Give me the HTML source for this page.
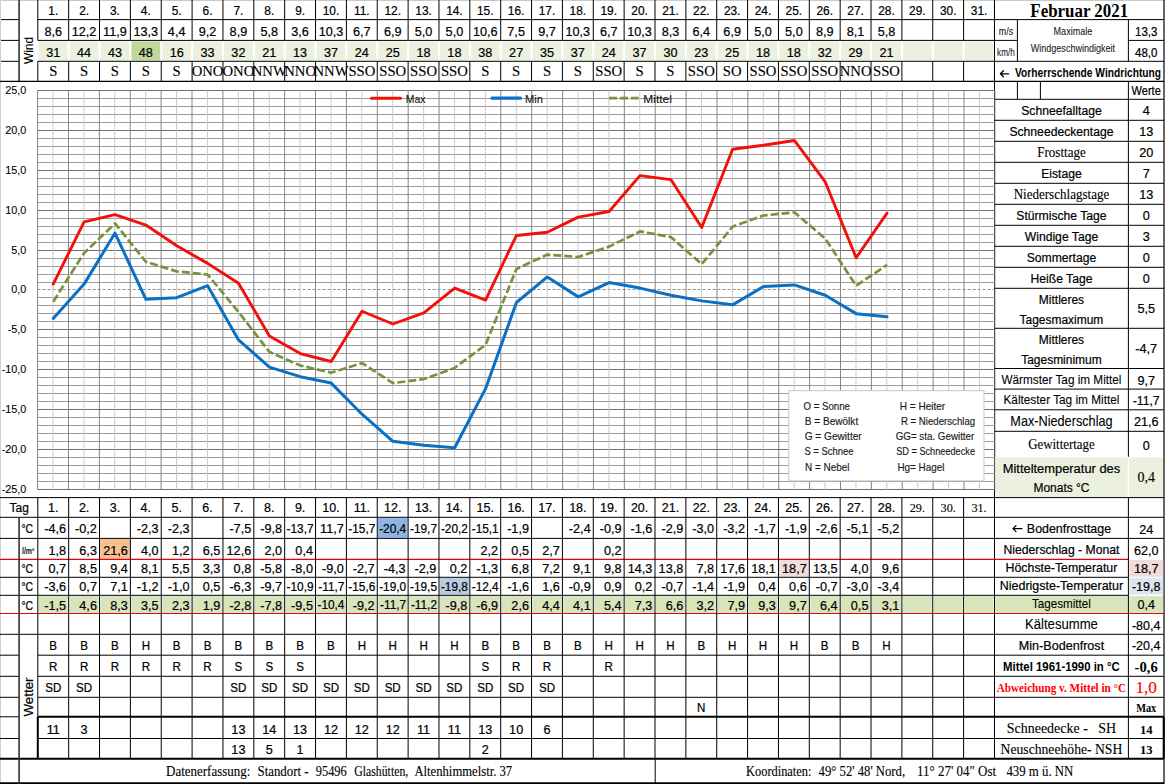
<!DOCTYPE html>
<html><head><meta charset="utf-8"><title>Februar 2021</title>
<style>
html,body{margin:0;padding:0;background:#fff;}
body{width:1165px;height:784px;overflow:hidden;font-family:"Liberation Sans",sans-serif;}
svg{display:block;}
text{white-space:pre;}
</style></head><body>
<svg width="1165" height="784" viewBox="0 0 1165 784">
<rect x="0.00" y="0.00" width="1165.00" height="784.00" fill="#fff" />
<rect x="38.80" y="41.30" width="28.86" height="19.30" fill="#ebf1de" />
<rect x="69.66" y="41.30" width="28.86" height="19.30" fill="#ebf1de" />
<rect x="100.52" y="41.30" width="28.86" height="19.30" fill="#ebf1de" />
<rect x="131.38" y="41.30" width="28.86" height="19.30" fill="#c4d79b" />
<rect x="162.24" y="41.30" width="28.86" height="19.30" fill="#ebf1de" />
<rect x="193.10" y="41.30" width="28.86" height="19.30" fill="#ebf1de" />
<rect x="223.96" y="41.30" width="28.86" height="19.30" fill="#ebf1de" />
<rect x="254.82" y="41.30" width="28.86" height="19.30" fill="#ebf1de" />
<rect x="285.68" y="41.30" width="28.86" height="19.30" fill="#ebf1de" />
<rect x="316.54" y="41.30" width="28.86" height="19.30" fill="#ebf1de" />
<rect x="347.40" y="41.30" width="28.86" height="19.30" fill="#ebf1de" />
<rect x="378.26" y="41.30" width="28.86" height="19.30" fill="#ebf1de" />
<rect x="409.12" y="41.30" width="28.86" height="19.30" fill="#ebf1de" />
<rect x="439.98" y="41.30" width="28.86" height="19.30" fill="#ebf1de" />
<rect x="470.84" y="41.30" width="28.86" height="19.30" fill="#ebf1de" />
<rect x="501.70" y="41.30" width="28.86" height="19.30" fill="#ebf1de" />
<rect x="532.56" y="41.30" width="28.86" height="19.30" fill="#ebf1de" />
<rect x="563.42" y="41.30" width="28.86" height="19.30" fill="#ebf1de" />
<rect x="594.28" y="41.30" width="28.86" height="19.30" fill="#ebf1de" />
<rect x="625.14" y="41.30" width="28.86" height="19.30" fill="#ebf1de" />
<rect x="656.00" y="41.30" width="28.86" height="19.30" fill="#ebf1de" />
<rect x="686.86" y="41.30" width="28.86" height="19.30" fill="#ebf1de" />
<rect x="717.72" y="41.30" width="28.86" height="19.30" fill="#ebf1de" />
<rect x="748.58" y="41.30" width="28.86" height="19.30" fill="#ebf1de" />
<rect x="779.44" y="41.30" width="28.86" height="19.30" fill="#ebf1de" />
<rect x="810.30" y="41.30" width="28.86" height="19.30" fill="#ebf1de" />
<rect x="841.16" y="41.30" width="28.86" height="19.30" fill="#ebf1de" />
<rect x="872.02" y="41.30" width="28.86" height="19.30" fill="#ebf1de" />
<rect x="902.88" y="41.30" width="28.86" height="19.30" fill="#ebf1de" />
<rect x="933.74" y="41.30" width="28.86" height="19.30" fill="#ebf1de" />
<rect x="964.60" y="41.30" width="28.86" height="19.30" fill="#ebf1de" />
<text transform="translate(53.23,15.00) scale(0.96,1)" font-family="Liberation Sans" font-size="12.4" text-anchor="middle" font-weight="normal" fill="#000"  stroke="#000" stroke-width="0.22">1.</text>
<text transform="translate(84.09,15.00) scale(0.96,1)" font-family="Liberation Sans" font-size="12.4" text-anchor="middle" font-weight="normal" fill="#000"  stroke="#000" stroke-width="0.22">2.</text>
<text transform="translate(114.95,15.00) scale(0.96,1)" font-family="Liberation Sans" font-size="12.4" text-anchor="middle" font-weight="normal" fill="#000"  stroke="#000" stroke-width="0.22">3.</text>
<text transform="translate(145.81,15.00) scale(0.96,1)" font-family="Liberation Sans" font-size="12.4" text-anchor="middle" font-weight="normal" fill="#000"  stroke="#000" stroke-width="0.22">4.</text>
<text transform="translate(176.67,15.00) scale(0.96,1)" font-family="Liberation Sans" font-size="12.4" text-anchor="middle" font-weight="normal" fill="#000"  stroke="#000" stroke-width="0.22">5.</text>
<text transform="translate(207.53,15.00) scale(0.96,1)" font-family="Liberation Sans" font-size="12.4" text-anchor="middle" font-weight="normal" fill="#000"  stroke="#000" stroke-width="0.22">6.</text>
<text transform="translate(238.39,15.00) scale(0.96,1)" font-family="Liberation Sans" font-size="12.4" text-anchor="middle" font-weight="normal" fill="#000"  stroke="#000" stroke-width="0.22">7.</text>
<text transform="translate(269.25,15.00) scale(0.96,1)" font-family="Liberation Sans" font-size="12.4" text-anchor="middle" font-weight="normal" fill="#000"  stroke="#000" stroke-width="0.22">8.</text>
<text transform="translate(300.11,15.00) scale(0.96,1)" font-family="Liberation Sans" font-size="12.4" text-anchor="middle" font-weight="normal" fill="#000"  stroke="#000" stroke-width="0.22">9.</text>
<text transform="translate(330.97,15.00) scale(0.96,1)" font-family="Liberation Sans" font-size="12.4" text-anchor="middle" font-weight="normal" fill="#000"  stroke="#000" stroke-width="0.22">10.</text>
<text transform="translate(361.83,15.00) scale(0.96,1)" font-family="Liberation Sans" font-size="12.4" text-anchor="middle" font-weight="normal" fill="#000"  stroke="#000" stroke-width="0.22">11.</text>
<text transform="translate(392.69,15.00) scale(0.96,1)" font-family="Liberation Sans" font-size="12.4" text-anchor="middle" font-weight="normal" fill="#000"  stroke="#000" stroke-width="0.22">12.</text>
<text transform="translate(423.55,15.00) scale(0.96,1)" font-family="Liberation Sans" font-size="12.4" text-anchor="middle" font-weight="normal" fill="#000"  stroke="#000" stroke-width="0.22">13.</text>
<text transform="translate(454.41,15.00) scale(0.96,1)" font-family="Liberation Sans" font-size="12.4" text-anchor="middle" font-weight="normal" fill="#000"  stroke="#000" stroke-width="0.22">14.</text>
<text transform="translate(485.27,15.00) scale(0.96,1)" font-family="Liberation Sans" font-size="12.4" text-anchor="middle" font-weight="normal" fill="#000"  stroke="#000" stroke-width="0.22">15.</text>
<text transform="translate(516.13,15.00) scale(0.96,1)" font-family="Liberation Sans" font-size="12.4" text-anchor="middle" font-weight="normal" fill="#000"  stroke="#000" stroke-width="0.22">16.</text>
<text transform="translate(546.99,15.00) scale(0.96,1)" font-family="Liberation Sans" font-size="12.4" text-anchor="middle" font-weight="normal" fill="#000"  stroke="#000" stroke-width="0.22">17.</text>
<text transform="translate(577.85,15.00) scale(0.96,1)" font-family="Liberation Sans" font-size="12.4" text-anchor="middle" font-weight="normal" fill="#000"  stroke="#000" stroke-width="0.22">18.</text>
<text transform="translate(608.71,15.00) scale(0.96,1)" font-family="Liberation Sans" font-size="12.4" text-anchor="middle" font-weight="normal" fill="#000"  stroke="#000" stroke-width="0.22">19.</text>
<text transform="translate(639.57,15.00) scale(0.96,1)" font-family="Liberation Sans" font-size="12.4" text-anchor="middle" font-weight="normal" fill="#000"  stroke="#000" stroke-width="0.22">20.</text>
<text transform="translate(670.43,15.00) scale(0.96,1)" font-family="Liberation Sans" font-size="12.4" text-anchor="middle" font-weight="normal" fill="#000"  stroke="#000" stroke-width="0.22">21.</text>
<text transform="translate(701.29,15.00) scale(0.96,1)" font-family="Liberation Sans" font-size="12.4" text-anchor="middle" font-weight="normal" fill="#000"  stroke="#000" stroke-width="0.22">22.</text>
<text transform="translate(732.15,15.00) scale(0.96,1)" font-family="Liberation Sans" font-size="12.4" text-anchor="middle" font-weight="normal" fill="#000"  stroke="#000" stroke-width="0.22">23.</text>
<text transform="translate(763.01,15.00) scale(0.96,1)" font-family="Liberation Sans" font-size="12.4" text-anchor="middle" font-weight="normal" fill="#000"  stroke="#000" stroke-width="0.22">24.</text>
<text transform="translate(793.87,15.00) scale(0.96,1)" font-family="Liberation Sans" font-size="12.4" text-anchor="middle" font-weight="normal" fill="#000"  stroke="#000" stroke-width="0.22">25.</text>
<text transform="translate(824.73,15.00) scale(0.96,1)" font-family="Liberation Sans" font-size="12.4" text-anchor="middle" font-weight="normal" fill="#000"  stroke="#000" stroke-width="0.22">26.</text>
<text transform="translate(855.59,15.00) scale(0.96,1)" font-family="Liberation Sans" font-size="12.4" text-anchor="middle" font-weight="normal" fill="#000"  stroke="#000" stroke-width="0.22">27.</text>
<text transform="translate(886.45,15.00) scale(0.96,1)" font-family="Liberation Sans" font-size="12.4" text-anchor="middle" font-weight="normal" fill="#000"  stroke="#000" stroke-width="0.22">28.</text>
<text transform="translate(917.31,15.00) scale(0.96,1)" font-family="Liberation Sans" font-size="12.4" text-anchor="middle" font-weight="normal" fill="#000"  stroke="#000" stroke-width="0.22">29.</text>
<text transform="translate(948.17,15.00) scale(0.96,1)" font-family="Liberation Sans" font-size="12.4" text-anchor="middle" font-weight="normal" fill="#000"  stroke="#000" stroke-width="0.22">30.</text>
<text transform="translate(979.03,15.00) scale(0.96,1)" font-family="Liberation Sans" font-size="12.4" text-anchor="middle" font-weight="normal" fill="#000"  stroke="#000" stroke-width="0.22">31.</text>
<text transform="translate(53.23,35.70) scale(0.96,1)" font-family="Liberation Sans" font-size="13.2" text-anchor="middle" font-weight="normal" fill="#000"  stroke="#000" stroke-width="0.22">8,6</text>
<text transform="translate(53.23,56.70) scale(0.96,1)" font-family="Liberation Sans" font-size="13.2" text-anchor="middle" font-weight="normal" fill="#000"  stroke="#000" stroke-width="0.22">31</text>
<text transform="translate(53.23,76.20) scale(1.0,1)" font-family="Liberation Serif" font-size="14.67" text-anchor="middle" font-weight="normal" fill="#000"  stroke="#000" stroke-width="0.12">S</text>
<text transform="translate(84.09,35.70) scale(0.96,1)" font-family="Liberation Sans" font-size="13.2" text-anchor="middle" font-weight="normal" fill="#000"  stroke="#000" stroke-width="0.22">12,2</text>
<text transform="translate(84.09,56.70) scale(0.96,1)" font-family="Liberation Sans" font-size="13.2" text-anchor="middle" font-weight="normal" fill="#000"  stroke="#000" stroke-width="0.22">44</text>
<text transform="translate(84.09,76.20) scale(1.0,1)" font-family="Liberation Serif" font-size="14.67" text-anchor="middle" font-weight="normal" fill="#000"  stroke="#000" stroke-width="0.12">S</text>
<text transform="translate(114.95,35.70) scale(0.96,1)" font-family="Liberation Sans" font-size="13.2" text-anchor="middle" font-weight="normal" fill="#000"  stroke="#000" stroke-width="0.22">11,9</text>
<text transform="translate(114.95,56.70) scale(0.96,1)" font-family="Liberation Sans" font-size="13.2" text-anchor="middle" font-weight="normal" fill="#000"  stroke="#000" stroke-width="0.22">43</text>
<text transform="translate(114.95,76.20) scale(1.0,1)" font-family="Liberation Serif" font-size="14.67" text-anchor="middle" font-weight="normal" fill="#000"  stroke="#000" stroke-width="0.12">S</text>
<text transform="translate(145.81,35.70) scale(0.96,1)" font-family="Liberation Sans" font-size="13.2" text-anchor="middle" font-weight="normal" fill="#000"  stroke="#000" stroke-width="0.22">13,3</text>
<text transform="translate(145.81,56.70) scale(0.96,1)" font-family="Liberation Sans" font-size="13.2" text-anchor="middle" font-weight="normal" fill="#000"  stroke="#000" stroke-width="0.22">48</text>
<text transform="translate(145.81,76.20) scale(1.0,1)" font-family="Liberation Serif" font-size="14.67" text-anchor="middle" font-weight="normal" fill="#000"  stroke="#000" stroke-width="0.12">S</text>
<text transform="translate(176.67,35.70) scale(0.96,1)" font-family="Liberation Sans" font-size="13.2" text-anchor="middle" font-weight="normal" fill="#000"  stroke="#000" stroke-width="0.22">4,4</text>
<text transform="translate(176.67,56.70) scale(0.96,1)" font-family="Liberation Sans" font-size="13.2" text-anchor="middle" font-weight="normal" fill="#000"  stroke="#000" stroke-width="0.22">16</text>
<text transform="translate(176.67,76.20) scale(1.0,1)" font-family="Liberation Serif" font-size="14.67" text-anchor="middle" font-weight="normal" fill="#000"  stroke="#000" stroke-width="0.12">S</text>
<text transform="translate(207.53,35.70) scale(0.96,1)" font-family="Liberation Sans" font-size="13.2" text-anchor="middle" font-weight="normal" fill="#000"  stroke="#000" stroke-width="0.22">9,2</text>
<text transform="translate(207.53,56.70) scale(0.96,1)" font-family="Liberation Sans" font-size="13.2" text-anchor="middle" font-weight="normal" fill="#000"  stroke="#000" stroke-width="0.22">33</text>
<text transform="translate(207.53,76.20) scale(1.0,1)" font-family="Liberation Serif" font-size="14.67" text-anchor="middle" font-weight="normal" fill="#000"  stroke="#000" stroke-width="0.12">ONO</text>
<text transform="translate(238.39,35.70) scale(0.96,1)" font-family="Liberation Sans" font-size="13.2" text-anchor="middle" font-weight="normal" fill="#000"  stroke="#000" stroke-width="0.22">8,9</text>
<text transform="translate(238.39,56.70) scale(0.96,1)" font-family="Liberation Sans" font-size="13.2" text-anchor="middle" font-weight="normal" fill="#000"  stroke="#000" stroke-width="0.22">32</text>
<text transform="translate(238.39,76.20) scale(1.0,1)" font-family="Liberation Serif" font-size="14.67" text-anchor="middle" font-weight="normal" fill="#000"  stroke="#000" stroke-width="0.12">ONO</text>
<text transform="translate(269.25,35.70) scale(0.96,1)" font-family="Liberation Sans" font-size="13.2" text-anchor="middle" font-weight="normal" fill="#000"  stroke="#000" stroke-width="0.22">5,8</text>
<text transform="translate(269.25,56.70) scale(0.96,1)" font-family="Liberation Sans" font-size="13.2" text-anchor="middle" font-weight="normal" fill="#000"  stroke="#000" stroke-width="0.22">21</text>
<text transform="translate(269.25,76.20) scale(1.0,1)" font-family="Liberation Serif" font-size="14.67" text-anchor="middle" font-weight="normal" fill="#000"  stroke="#000" stroke-width="0.12">NNW</text>
<text transform="translate(300.11,35.70) scale(0.96,1)" font-family="Liberation Sans" font-size="13.2" text-anchor="middle" font-weight="normal" fill="#000"  stroke="#000" stroke-width="0.22">3,6</text>
<text transform="translate(300.11,56.70) scale(0.96,1)" font-family="Liberation Sans" font-size="13.2" text-anchor="middle" font-weight="normal" fill="#000"  stroke="#000" stroke-width="0.22">13</text>
<text transform="translate(300.11,76.20) scale(1.0,1)" font-family="Liberation Serif" font-size="14.67" text-anchor="middle" font-weight="normal" fill="#000"  stroke="#000" stroke-width="0.12">NNO</text>
<text transform="translate(330.97,35.70) scale(0.96,1)" font-family="Liberation Sans" font-size="13.2" text-anchor="middle" font-weight="normal" fill="#000"  stroke="#000" stroke-width="0.22">10,3</text>
<text transform="translate(330.97,56.70) scale(0.96,1)" font-family="Liberation Sans" font-size="13.2" text-anchor="middle" font-weight="normal" fill="#000"  stroke="#000" stroke-width="0.22">37</text>
<text transform="translate(330.97,76.20) scale(1.0,1)" font-family="Liberation Serif" font-size="14.67" text-anchor="middle" font-weight="normal" fill="#000"  stroke="#000" stroke-width="0.12">NNW</text>
<text transform="translate(361.83,35.70) scale(0.96,1)" font-family="Liberation Sans" font-size="13.2" text-anchor="middle" font-weight="normal" fill="#000"  stroke="#000" stroke-width="0.22">6,7</text>
<text transform="translate(361.83,56.70) scale(0.96,1)" font-family="Liberation Sans" font-size="13.2" text-anchor="middle" font-weight="normal" fill="#000"  stroke="#000" stroke-width="0.22">24</text>
<text transform="translate(361.83,76.20) scale(1.0,1)" font-family="Liberation Serif" font-size="14.67" text-anchor="middle" font-weight="normal" fill="#000"  stroke="#000" stroke-width="0.12">SSO</text>
<text transform="translate(392.69,35.70) scale(0.96,1)" font-family="Liberation Sans" font-size="13.2" text-anchor="middle" font-weight="normal" fill="#000"  stroke="#000" stroke-width="0.22">6,9</text>
<text transform="translate(392.69,56.70) scale(0.96,1)" font-family="Liberation Sans" font-size="13.2" text-anchor="middle" font-weight="normal" fill="#000"  stroke="#000" stroke-width="0.22">25</text>
<text transform="translate(392.69,76.20) scale(1.0,1)" font-family="Liberation Serif" font-size="14.67" text-anchor="middle" font-weight="normal" fill="#000"  stroke="#000" stroke-width="0.12">SSO</text>
<text transform="translate(423.55,35.70) scale(0.96,1)" font-family="Liberation Sans" font-size="13.2" text-anchor="middle" font-weight="normal" fill="#000"  stroke="#000" stroke-width="0.22">5,0</text>
<text transform="translate(423.55,56.70) scale(0.96,1)" font-family="Liberation Sans" font-size="13.2" text-anchor="middle" font-weight="normal" fill="#000"  stroke="#000" stroke-width="0.22">18</text>
<text transform="translate(423.55,76.20) scale(1.0,1)" font-family="Liberation Serif" font-size="14.67" text-anchor="middle" font-weight="normal" fill="#000"  stroke="#000" stroke-width="0.12">SSO</text>
<text transform="translate(454.41,35.70) scale(0.96,1)" font-family="Liberation Sans" font-size="13.2" text-anchor="middle" font-weight="normal" fill="#000"  stroke="#000" stroke-width="0.22">5,0</text>
<text transform="translate(454.41,56.70) scale(0.96,1)" font-family="Liberation Sans" font-size="13.2" text-anchor="middle" font-weight="normal" fill="#000"  stroke="#000" stroke-width="0.22">18</text>
<text transform="translate(454.41,76.20) scale(1.0,1)" font-family="Liberation Serif" font-size="14.67" text-anchor="middle" font-weight="normal" fill="#000"  stroke="#000" stroke-width="0.12">SSO</text>
<text transform="translate(485.27,35.70) scale(0.96,1)" font-family="Liberation Sans" font-size="13.2" text-anchor="middle" font-weight="normal" fill="#000"  stroke="#000" stroke-width="0.22">10,6</text>
<text transform="translate(485.27,56.70) scale(0.96,1)" font-family="Liberation Sans" font-size="13.2" text-anchor="middle" font-weight="normal" fill="#000"  stroke="#000" stroke-width="0.22">38</text>
<text transform="translate(485.27,76.20) scale(1.0,1)" font-family="Liberation Serif" font-size="14.67" text-anchor="middle" font-weight="normal" fill="#000"  stroke="#000" stroke-width="0.12">S</text>
<text transform="translate(516.13,35.70) scale(0.96,1)" font-family="Liberation Sans" font-size="13.2" text-anchor="middle" font-weight="normal" fill="#000"  stroke="#000" stroke-width="0.22">7,5</text>
<text transform="translate(516.13,56.70) scale(0.96,1)" font-family="Liberation Sans" font-size="13.2" text-anchor="middle" font-weight="normal" fill="#000"  stroke="#000" stroke-width="0.22">27</text>
<text transform="translate(516.13,76.20) scale(1.0,1)" font-family="Liberation Serif" font-size="14.67" text-anchor="middle" font-weight="normal" fill="#000"  stroke="#000" stroke-width="0.12">S</text>
<text transform="translate(546.99,35.70) scale(0.96,1)" font-family="Liberation Sans" font-size="13.2" text-anchor="middle" font-weight="normal" fill="#000"  stroke="#000" stroke-width="0.22">9,7</text>
<text transform="translate(546.99,56.70) scale(0.96,1)" font-family="Liberation Sans" font-size="13.2" text-anchor="middle" font-weight="normal" fill="#000"  stroke="#000" stroke-width="0.22">35</text>
<text transform="translate(546.99,76.20) scale(1.0,1)" font-family="Liberation Serif" font-size="14.67" text-anchor="middle" font-weight="normal" fill="#000"  stroke="#000" stroke-width="0.12">S</text>
<text transform="translate(577.85,35.70) scale(0.96,1)" font-family="Liberation Sans" font-size="13.2" text-anchor="middle" font-weight="normal" fill="#000"  stroke="#000" stroke-width="0.22">10,3</text>
<text transform="translate(577.85,56.70) scale(0.96,1)" font-family="Liberation Sans" font-size="13.2" text-anchor="middle" font-weight="normal" fill="#000"  stroke="#000" stroke-width="0.22">37</text>
<text transform="translate(577.85,76.20) scale(1.0,1)" font-family="Liberation Serif" font-size="14.67" text-anchor="middle" font-weight="normal" fill="#000"  stroke="#000" stroke-width="0.12">S</text>
<text transform="translate(608.71,35.70) scale(0.96,1)" font-family="Liberation Sans" font-size="13.2" text-anchor="middle" font-weight="normal" fill="#000"  stroke="#000" stroke-width="0.22">6,7</text>
<text transform="translate(608.71,56.70) scale(0.96,1)" font-family="Liberation Sans" font-size="13.2" text-anchor="middle" font-weight="normal" fill="#000"  stroke="#000" stroke-width="0.22">24</text>
<text transform="translate(608.71,76.20) scale(1.0,1)" font-family="Liberation Serif" font-size="14.67" text-anchor="middle" font-weight="normal" fill="#000"  stroke="#000" stroke-width="0.12">SSO</text>
<text transform="translate(639.57,35.70) scale(0.96,1)" font-family="Liberation Sans" font-size="13.2" text-anchor="middle" font-weight="normal" fill="#000"  stroke="#000" stroke-width="0.22">10,3</text>
<text transform="translate(639.57,56.70) scale(0.96,1)" font-family="Liberation Sans" font-size="13.2" text-anchor="middle" font-weight="normal" fill="#000"  stroke="#000" stroke-width="0.22">37</text>
<text transform="translate(639.57,76.20) scale(1.0,1)" font-family="Liberation Serif" font-size="14.67" text-anchor="middle" font-weight="normal" fill="#000"  stroke="#000" stroke-width="0.12">S</text>
<text transform="translate(670.43,35.70) scale(0.96,1)" font-family="Liberation Sans" font-size="13.2" text-anchor="middle" font-weight="normal" fill="#000"  stroke="#000" stroke-width="0.22">8,3</text>
<text transform="translate(670.43,56.70) scale(0.96,1)" font-family="Liberation Sans" font-size="13.2" text-anchor="middle" font-weight="normal" fill="#000"  stroke="#000" stroke-width="0.22">30</text>
<text transform="translate(670.43,76.20) scale(1.0,1)" font-family="Liberation Serif" font-size="14.67" text-anchor="middle" font-weight="normal" fill="#000"  stroke="#000" stroke-width="0.12">S</text>
<text transform="translate(701.29,35.70) scale(0.96,1)" font-family="Liberation Sans" font-size="13.2" text-anchor="middle" font-weight="normal" fill="#000"  stroke="#000" stroke-width="0.22">6,4</text>
<text transform="translate(701.29,56.70) scale(0.96,1)" font-family="Liberation Sans" font-size="13.2" text-anchor="middle" font-weight="normal" fill="#000"  stroke="#000" stroke-width="0.22">23</text>
<text transform="translate(701.29,76.20) scale(1.0,1)" font-family="Liberation Serif" font-size="14.67" text-anchor="middle" font-weight="normal" fill="#000"  stroke="#000" stroke-width="0.12">SSO</text>
<text transform="translate(732.15,35.70) scale(0.96,1)" font-family="Liberation Sans" font-size="13.2" text-anchor="middle" font-weight="normal" fill="#000"  stroke="#000" stroke-width="0.22">6,9</text>
<text transform="translate(732.15,56.70) scale(0.96,1)" font-family="Liberation Sans" font-size="13.2" text-anchor="middle" font-weight="normal" fill="#000"  stroke="#000" stroke-width="0.22">25</text>
<text transform="translate(732.15,76.20) scale(1.0,1)" font-family="Liberation Serif" font-size="14.67" text-anchor="middle" font-weight="normal" fill="#000"  stroke="#000" stroke-width="0.12">SO</text>
<text transform="translate(763.01,35.70) scale(0.96,1)" font-family="Liberation Sans" font-size="13.2" text-anchor="middle" font-weight="normal" fill="#000"  stroke="#000" stroke-width="0.22">5,0</text>
<text transform="translate(763.01,56.70) scale(0.96,1)" font-family="Liberation Sans" font-size="13.2" text-anchor="middle" font-weight="normal" fill="#000"  stroke="#000" stroke-width="0.22">18</text>
<text transform="translate(763.01,76.20) scale(1.0,1)" font-family="Liberation Serif" font-size="14.67" text-anchor="middle" font-weight="normal" fill="#000"  stroke="#000" stroke-width="0.12">SSO</text>
<text transform="translate(793.87,35.70) scale(0.96,1)" font-family="Liberation Sans" font-size="13.2" text-anchor="middle" font-weight="normal" fill="#000"  stroke="#000" stroke-width="0.22">5,0</text>
<text transform="translate(793.87,56.70) scale(0.96,1)" font-family="Liberation Sans" font-size="13.2" text-anchor="middle" font-weight="normal" fill="#000"  stroke="#000" stroke-width="0.22">18</text>
<text transform="translate(793.87,76.20) scale(1.0,1)" font-family="Liberation Serif" font-size="14.67" text-anchor="middle" font-weight="normal" fill="#000"  stroke="#000" stroke-width="0.12">SSO</text>
<text transform="translate(824.73,35.70) scale(0.96,1)" font-family="Liberation Sans" font-size="13.2" text-anchor="middle" font-weight="normal" fill="#000"  stroke="#000" stroke-width="0.22">8,9</text>
<text transform="translate(824.73,56.70) scale(0.96,1)" font-family="Liberation Sans" font-size="13.2" text-anchor="middle" font-weight="normal" fill="#000"  stroke="#000" stroke-width="0.22">32</text>
<text transform="translate(824.73,76.20) scale(1.0,1)" font-family="Liberation Serif" font-size="14.67" text-anchor="middle" font-weight="normal" fill="#000"  stroke="#000" stroke-width="0.12">SSO</text>
<text transform="translate(855.59,35.70) scale(0.96,1)" font-family="Liberation Sans" font-size="13.2" text-anchor="middle" font-weight="normal" fill="#000"  stroke="#000" stroke-width="0.22">8,1</text>
<text transform="translate(855.59,56.70) scale(0.96,1)" font-family="Liberation Sans" font-size="13.2" text-anchor="middle" font-weight="normal" fill="#000"  stroke="#000" stroke-width="0.22">29</text>
<text transform="translate(855.59,76.20) scale(1.0,1)" font-family="Liberation Serif" font-size="14.67" text-anchor="middle" font-weight="normal" fill="#000"  stroke="#000" stroke-width="0.12">NNO</text>
<text transform="translate(886.45,35.70) scale(0.96,1)" font-family="Liberation Sans" font-size="13.2" text-anchor="middle" font-weight="normal" fill="#000"  stroke="#000" stroke-width="0.22">5,8</text>
<text transform="translate(886.45,56.70) scale(0.96,1)" font-family="Liberation Sans" font-size="13.2" text-anchor="middle" font-weight="normal" fill="#000"  stroke="#000" stroke-width="0.22">21</text>
<text transform="translate(886.45,76.20) scale(1.0,1)" font-family="Liberation Serif" font-size="14.67" text-anchor="middle" font-weight="normal" fill="#000"  stroke="#000" stroke-width="0.12">SSO</text>
<line x1="0.00" y1="0.50" x2="1164.00" y2="0.50" stroke="#c8c8c8" stroke-width="1" />
<line x1="0.00" y1="19.60" x2="19.00" y2="19.60" stroke="#000" stroke-width="1" />
<line x1="37.80" y1="19.60" x2="1164.00" y2="19.60" stroke="#000" stroke-width="1" />
<line x1="0.00" y1="40.40" x2="19.00" y2="40.40" stroke="#000" stroke-width="1" />
<line x1="37.80" y1="40.40" x2="994.50" y2="40.40" stroke="#000" stroke-width="1" />
<line x1="0.00" y1="61.30" x2="19.00" y2="61.30" stroke="#000" stroke-width="1" />
<line x1="37.80" y1="61.30" x2="994.50" y2="61.30" stroke="#000" stroke-width="1" />
<line x1="19.10" y1="0.00" x2="19.10" y2="81.40" stroke="#333" stroke-width="1.6" />
<line x1="37.80" y1="0.00" x2="37.80" y2="40.40" stroke="#000" stroke-width="1" />
<line x1="37.80" y1="61.30" x2="37.80" y2="81.40" stroke="#000" stroke-width="1" />
<line x1="68.66" y1="0.00" x2="68.66" y2="40.40" stroke="#000" stroke-width="1" />
<line x1="68.66" y1="61.30" x2="68.66" y2="81.40" stroke="#000" stroke-width="1" />
<line x1="99.52" y1="0.00" x2="99.52" y2="40.40" stroke="#000" stroke-width="1" />
<line x1="99.52" y1="61.30" x2="99.52" y2="81.40" stroke="#000" stroke-width="1" />
<line x1="130.38" y1="0.00" x2="130.38" y2="40.40" stroke="#000" stroke-width="1" />
<line x1="130.38" y1="61.30" x2="130.38" y2="81.40" stroke="#000" stroke-width="1" />
<line x1="161.24" y1="0.00" x2="161.24" y2="40.40" stroke="#000" stroke-width="1" />
<line x1="161.24" y1="61.30" x2="161.24" y2="81.40" stroke="#000" stroke-width="1" />
<line x1="192.10" y1="0.00" x2="192.10" y2="40.40" stroke="#000" stroke-width="1" />
<line x1="192.10" y1="61.30" x2="192.10" y2="81.40" stroke="#000" stroke-width="1" />
<line x1="222.96" y1="0.00" x2="222.96" y2="40.40" stroke="#000" stroke-width="1" />
<line x1="222.96" y1="61.30" x2="222.96" y2="81.40" stroke="#000" stroke-width="1" />
<line x1="253.82" y1="0.00" x2="253.82" y2="40.40" stroke="#000" stroke-width="1" />
<line x1="253.82" y1="61.30" x2="253.82" y2="81.40" stroke="#000" stroke-width="1" />
<line x1="284.68" y1="0.00" x2="284.68" y2="40.40" stroke="#000" stroke-width="1" />
<line x1="284.68" y1="61.30" x2="284.68" y2="81.40" stroke="#000" stroke-width="1" />
<line x1="315.54" y1="0.00" x2="315.54" y2="40.40" stroke="#000" stroke-width="1" />
<line x1="315.54" y1="61.30" x2="315.54" y2="81.40" stroke="#000" stroke-width="1" />
<line x1="346.40" y1="0.00" x2="346.40" y2="40.40" stroke="#000" stroke-width="1" />
<line x1="346.40" y1="61.30" x2="346.40" y2="81.40" stroke="#000" stroke-width="1" />
<line x1="377.26" y1="0.00" x2="377.26" y2="40.40" stroke="#000" stroke-width="1" />
<line x1="377.26" y1="61.30" x2="377.26" y2="81.40" stroke="#000" stroke-width="1" />
<line x1="408.12" y1="0.00" x2="408.12" y2="40.40" stroke="#000" stroke-width="1" />
<line x1="408.12" y1="61.30" x2="408.12" y2="81.40" stroke="#000" stroke-width="1" />
<line x1="438.98" y1="0.00" x2="438.98" y2="40.40" stroke="#000" stroke-width="1" />
<line x1="438.98" y1="61.30" x2="438.98" y2="81.40" stroke="#000" stroke-width="1" />
<line x1="469.84" y1="0.00" x2="469.84" y2="40.40" stroke="#000" stroke-width="1" />
<line x1="469.84" y1="61.30" x2="469.84" y2="81.40" stroke="#000" stroke-width="1" />
<line x1="500.70" y1="0.00" x2="500.70" y2="40.40" stroke="#000" stroke-width="1" />
<line x1="500.70" y1="61.30" x2="500.70" y2="81.40" stroke="#000" stroke-width="1" />
<line x1="531.56" y1="0.00" x2="531.56" y2="40.40" stroke="#000" stroke-width="1" />
<line x1="531.56" y1="61.30" x2="531.56" y2="81.40" stroke="#000" stroke-width="1" />
<line x1="562.42" y1="0.00" x2="562.42" y2="40.40" stroke="#000" stroke-width="1" />
<line x1="562.42" y1="61.30" x2="562.42" y2="81.40" stroke="#000" stroke-width="1" />
<line x1="593.28" y1="0.00" x2="593.28" y2="40.40" stroke="#000" stroke-width="1" />
<line x1="593.28" y1="61.30" x2="593.28" y2="81.40" stroke="#000" stroke-width="1" />
<line x1="624.14" y1="0.00" x2="624.14" y2="40.40" stroke="#000" stroke-width="1" />
<line x1="624.14" y1="61.30" x2="624.14" y2="81.40" stroke="#000" stroke-width="1" />
<line x1="655.00" y1="0.00" x2="655.00" y2="40.40" stroke="#000" stroke-width="1" />
<line x1="655.00" y1="61.30" x2="655.00" y2="81.40" stroke="#000" stroke-width="1" />
<line x1="685.86" y1="0.00" x2="685.86" y2="40.40" stroke="#000" stroke-width="1" />
<line x1="685.86" y1="61.30" x2="685.86" y2="81.40" stroke="#000" stroke-width="1" />
<line x1="716.72" y1="0.00" x2="716.72" y2="40.40" stroke="#000" stroke-width="1" />
<line x1="716.72" y1="61.30" x2="716.72" y2="81.40" stroke="#000" stroke-width="1" />
<line x1="747.58" y1="0.00" x2="747.58" y2="40.40" stroke="#000" stroke-width="1" />
<line x1="747.58" y1="61.30" x2="747.58" y2="81.40" stroke="#000" stroke-width="1" />
<line x1="778.44" y1="0.00" x2="778.44" y2="40.40" stroke="#000" stroke-width="1" />
<line x1="778.44" y1="61.30" x2="778.44" y2="81.40" stroke="#000" stroke-width="1" />
<line x1="809.30" y1="0.00" x2="809.30" y2="40.40" stroke="#000" stroke-width="1" />
<line x1="809.30" y1="61.30" x2="809.30" y2="81.40" stroke="#000" stroke-width="1" />
<line x1="840.16" y1="0.00" x2="840.16" y2="40.40" stroke="#000" stroke-width="1" />
<line x1="840.16" y1="61.30" x2="840.16" y2="81.40" stroke="#000" stroke-width="1" />
<line x1="871.02" y1="0.00" x2="871.02" y2="40.40" stroke="#000" stroke-width="1" />
<line x1="871.02" y1="61.30" x2="871.02" y2="81.40" stroke="#000" stroke-width="1" />
<line x1="901.88" y1="0.00" x2="901.88" y2="40.40" stroke="#000" stroke-width="1" />
<line x1="901.88" y1="61.30" x2="901.88" y2="81.40" stroke="#000" stroke-width="1" />
<line x1="932.74" y1="0.00" x2="932.74" y2="40.40" stroke="#000" stroke-width="1" />
<line x1="932.74" y1="61.30" x2="932.74" y2="81.40" stroke="#000" stroke-width="1" />
<line x1="963.60" y1="0.00" x2="963.60" y2="40.40" stroke="#000" stroke-width="1" />
<line x1="963.60" y1="61.30" x2="963.60" y2="81.40" stroke="#000" stroke-width="1" />
<line x1="994.46" y1="0.00" x2="994.46" y2="40.40" stroke="#000" stroke-width="1" />
<line x1="994.46" y1="61.30" x2="994.46" y2="81.40" stroke="#000" stroke-width="1" />
<line x1="0.50" y1="0.00" x2="0.50" y2="784.00" stroke="#cfcfcf" stroke-width="1" />
<text transform="translate(33.2,50.5) rotate(-90) scale(0.95,1)" font-family="Liberation Sans" font-size="12.6" text-anchor="middle" stroke="#000" stroke-width="0.08">Wind</text>
<text transform="translate(1079.25,17.30) scale(0.91,1)" font-family="Liberation Serif" font-size="18.6" text-anchor="middle" font-weight="bold" fill="#000" >Februar 2021</text>
<line x1="994.50" y1="0.00" x2="994.50" y2="758.80" stroke="#000" stroke-width="1" />
<line x1="1164.00" y1="0.00" x2="1164.00" y2="784.00" stroke="#000" stroke-width="1.2" />
<line x1="1017.40" y1="19.60" x2="1017.40" y2="61.30" stroke="#000" stroke-width="1" />
<line x1="1128.40" y1="19.60" x2="1128.40" y2="61.30" stroke="#000" stroke-width="1" />
<line x1="994.50" y1="40.40" x2="1017.40" y2="40.40" stroke="#000" stroke-width="1" />
<line x1="1128.40" y1="40.40" x2="1164.00" y2="40.40" stroke="#000" stroke-width="1" />
<line x1="994.50" y1="61.30" x2="1164.00" y2="61.30" stroke="#000" stroke-width="1" />
<text transform="translate(1005.95,35.20) scale(0.85,1)" font-family="Liberation Sans" font-size="10.5" text-anchor="middle" font-weight="normal" fill="#222"  stroke="#222" stroke-width="0.1">m/s</text>
<text transform="translate(1005.95,55.90) scale(0.78,1)" font-family="Liberation Sans" font-size="10.5" text-anchor="middle" font-weight="normal" fill="#222"  stroke="#222" stroke-width="0.1">km/h</text>
<text transform="translate(1072.90,35.40) scale(0.8,1)" font-family="Liberation Sans" font-size="11.3" text-anchor="middle" font-weight="normal" fill="#222"  stroke="#222" stroke-width="0.1">Maximale</text>
<text transform="translate(1072.90,52.30) scale(0.8,1)" font-family="Liberation Sans" font-size="11.3" text-anchor="middle" font-weight="normal" fill="#222"  stroke="#222" stroke-width="0.1">Windgeschwindigkeit</text>
<text transform="translate(1146.20,35.80) scale(0.9,1)" font-family="Liberation Sans" font-size="12.8" text-anchor="middle" font-weight="normal" fill="#000"  stroke="#000" stroke-width="0.22">13,3</text>
<text transform="translate(1146.20,56.90) scale(0.9,1)" font-family="Liberation Sans" font-size="12.8" text-anchor="middle" font-weight="normal" fill="#000"  stroke="#000" stroke-width="0.22">48,0</text>
<path d="M1008.80,73.80 H1000.40 M1003.40,70.80 L1000.40,73.80 L1003.40,76.80" fill="none" stroke="#000" stroke-width="1.3" stroke-linecap="round" stroke-linejoin="round"/>
<text transform="translate(1161.00,77.00) scale(0.83,1)" font-family="Liberation Sans" font-size="12.3" text-anchor="end" font-weight="bold" fill="#000" >Vorherrschende Windrichtung</text>
<line x1="0.00" y1="81.40" x2="1164.00" y2="81.40" stroke="#000" stroke-width="1.3" />
<line x1="37.60" y1="489.50" x2="994.90" y2="489.50" stroke="#707070" stroke-width="1" />
<line x1="37.60" y1="481.50" x2="994.90" y2="481.50" stroke="#9c9c9c" stroke-width="1" />
<line x1="37.60" y1="473.50" x2="994.90" y2="473.50" stroke="#9c9c9c" stroke-width="1" />
<line x1="37.60" y1="465.50" x2="994.90" y2="465.50" stroke="#9c9c9c" stroke-width="1" />
<line x1="37.60" y1="457.50" x2="994.90" y2="457.50" stroke="#9c9c9c" stroke-width="1" />
<line x1="37.60" y1="449.50" x2="994.90" y2="449.50" stroke="#707070" stroke-width="1" />
<line x1="37.60" y1="441.50" x2="994.90" y2="441.50" stroke="#9c9c9c" stroke-width="1" />
<line x1="37.60" y1="433.50" x2="994.90" y2="433.50" stroke="#9c9c9c" stroke-width="1" />
<line x1="37.60" y1="425.50" x2="994.90" y2="425.50" stroke="#9c9c9c" stroke-width="1" />
<line x1="37.60" y1="417.50" x2="994.90" y2="417.50" stroke="#9c9c9c" stroke-width="1" />
<line x1="37.60" y1="409.50" x2="994.90" y2="409.50" stroke="#707070" stroke-width="1" />
<line x1="37.60" y1="401.50" x2="994.90" y2="401.50" stroke="#9c9c9c" stroke-width="1" />
<line x1="37.60" y1="393.50" x2="994.90" y2="393.50" stroke="#9c9c9c" stroke-width="1" />
<line x1="37.60" y1="385.50" x2="994.90" y2="385.50" stroke="#9c9c9c" stroke-width="1" />
<line x1="37.60" y1="377.50" x2="994.90" y2="377.50" stroke="#9c9c9c" stroke-width="1" />
<line x1="37.60" y1="369.50" x2="994.90" y2="369.50" stroke="#707070" stroke-width="1" />
<line x1="37.60" y1="361.50" x2="994.90" y2="361.50" stroke="#9c9c9c" stroke-width="1" />
<line x1="37.60" y1="353.50" x2="994.90" y2="353.50" stroke="#9c9c9c" stroke-width="1" />
<line x1="37.60" y1="345.50" x2="994.90" y2="345.50" stroke="#9c9c9c" stroke-width="1" />
<line x1="37.60" y1="337.50" x2="994.90" y2="337.50" stroke="#9c9c9c" stroke-width="1" />
<line x1="37.60" y1="329.50" x2="994.90" y2="329.50" stroke="#707070" stroke-width="1" />
<line x1="37.60" y1="321.50" x2="994.90" y2="321.50" stroke="#9c9c9c" stroke-width="1" />
<line x1="37.60" y1="313.50" x2="994.90" y2="313.50" stroke="#9c9c9c" stroke-width="1" />
<line x1="37.60" y1="305.50" x2="994.90" y2="305.50" stroke="#9c9c9c" stroke-width="1" />
<line x1="37.60" y1="297.50" x2="994.90" y2="297.50" stroke="#9c9c9c" stroke-width="1" />
<line x1="37.60" y1="282.50" x2="994.90" y2="282.50" stroke="#9c9c9c" stroke-width="1" />
<line x1="37.60" y1="274.50" x2="994.90" y2="274.50" stroke="#9c9c9c" stroke-width="1" />
<line x1="37.60" y1="266.50" x2="994.90" y2="266.50" stroke="#9c9c9c" stroke-width="1" />
<line x1="37.60" y1="258.50" x2="994.90" y2="258.50" stroke="#9c9c9c" stroke-width="1" />
<line x1="37.60" y1="250.50" x2="994.90" y2="250.50" stroke="#707070" stroke-width="1" />
<line x1="37.60" y1="242.50" x2="994.90" y2="242.50" stroke="#9c9c9c" stroke-width="1" />
<line x1="37.60" y1="234.50" x2="994.90" y2="234.50" stroke="#9c9c9c" stroke-width="1" />
<line x1="37.60" y1="226.50" x2="994.90" y2="226.50" stroke="#9c9c9c" stroke-width="1" />
<line x1="37.60" y1="218.50" x2="994.90" y2="218.50" stroke="#9c9c9c" stroke-width="1" />
<line x1="37.60" y1="210.50" x2="994.90" y2="210.50" stroke="#707070" stroke-width="1" />
<line x1="37.60" y1="202.50" x2="994.90" y2="202.50" stroke="#9c9c9c" stroke-width="1" />
<line x1="37.60" y1="194.50" x2="994.90" y2="194.50" stroke="#9c9c9c" stroke-width="1" />
<line x1="37.60" y1="186.50" x2="994.90" y2="186.50" stroke="#9c9c9c" stroke-width="1" />
<line x1="37.60" y1="178.50" x2="994.90" y2="178.50" stroke="#9c9c9c" stroke-width="1" />
<line x1="37.60" y1="170.50" x2="994.90" y2="170.50" stroke="#707070" stroke-width="1" />
<line x1="37.60" y1="162.50" x2="994.90" y2="162.50" stroke="#9c9c9c" stroke-width="1" />
<line x1="37.60" y1="154.50" x2="994.90" y2="154.50" stroke="#9c9c9c" stroke-width="1" />
<line x1="37.60" y1="146.50" x2="994.90" y2="146.50" stroke="#9c9c9c" stroke-width="1" />
<line x1="37.60" y1="138.50" x2="994.90" y2="138.50" stroke="#9c9c9c" stroke-width="1" />
<line x1="37.60" y1="130.50" x2="994.90" y2="130.50" stroke="#707070" stroke-width="1" />
<line x1="37.60" y1="122.50" x2="994.90" y2="122.50" stroke="#9c9c9c" stroke-width="1" />
<line x1="37.60" y1="114.50" x2="994.90" y2="114.50" stroke="#9c9c9c" stroke-width="1" />
<line x1="37.60" y1="106.50" x2="994.90" y2="106.50" stroke="#9c9c9c" stroke-width="1" />
<line x1="37.60" y1="98.50" x2="994.90" y2="98.50" stroke="#9c9c9c" stroke-width="1" />
<line x1="37.60" y1="90.50" x2="994.90" y2="90.50" stroke="#707070" stroke-width="1" />
<line x1="37.60" y1="289.50" x2="994.90" y2="289.50" stroke="#909090" stroke-width="1" stroke-dasharray="3,2"/>
<line x1="37.60" y1="90.50" x2="37.60" y2="489.50" stroke="#858585" stroke-width="1.0" />
<line x1="68.48" y1="90.50" x2="68.48" y2="489.50" stroke="#858585" stroke-width="1.0" />
<line x1="99.36" y1="90.50" x2="99.36" y2="489.50" stroke="#858585" stroke-width="1.0" />
<line x1="130.24" y1="90.50" x2="130.24" y2="489.50" stroke="#858585" stroke-width="1.0" />
<line x1="161.12" y1="90.50" x2="161.12" y2="489.50" stroke="#858585" stroke-width="1.0" />
<line x1="192.00" y1="90.50" x2="192.00" y2="489.50" stroke="#858585" stroke-width="1.0" />
<line x1="222.88" y1="90.50" x2="222.88" y2="489.50" stroke="#858585" stroke-width="1.0" />
<line x1="253.76" y1="90.50" x2="253.76" y2="489.50" stroke="#858585" stroke-width="1.0" />
<line x1="284.65" y1="90.50" x2="284.65" y2="489.50" stroke="#858585" stroke-width="1.0" />
<line x1="315.53" y1="90.50" x2="315.53" y2="489.50" stroke="#858585" stroke-width="1.0" />
<line x1="346.41" y1="90.50" x2="346.41" y2="489.50" stroke="#858585" stroke-width="1.0" />
<line x1="377.29" y1="90.50" x2="377.29" y2="489.50" stroke="#858585" stroke-width="1.0" />
<line x1="408.17" y1="90.50" x2="408.17" y2="489.50" stroke="#858585" stroke-width="1.0" />
<line x1="439.05" y1="90.50" x2="439.05" y2="489.50" stroke="#858585" stroke-width="1.0" />
<line x1="469.93" y1="90.50" x2="469.93" y2="489.50" stroke="#858585" stroke-width="1.0" />
<line x1="500.81" y1="90.50" x2="500.81" y2="489.50" stroke="#858585" stroke-width="1.0" />
<line x1="531.69" y1="90.50" x2="531.69" y2="489.50" stroke="#858585" stroke-width="1.0" />
<line x1="562.57" y1="90.50" x2="562.57" y2="489.50" stroke="#858585" stroke-width="1.0" />
<line x1="593.45" y1="90.50" x2="593.45" y2="489.50" stroke="#858585" stroke-width="1.0" />
<line x1="624.33" y1="90.50" x2="624.33" y2="489.50" stroke="#858585" stroke-width="1.0" />
<line x1="655.21" y1="90.50" x2="655.21" y2="489.50" stroke="#858585" stroke-width="1.0" />
<line x1="686.09" y1="90.50" x2="686.09" y2="489.50" stroke="#858585" stroke-width="1.0" />
<line x1="716.97" y1="90.50" x2="716.97" y2="489.50" stroke="#858585" stroke-width="1.0" />
<line x1="747.85" y1="90.50" x2="747.85" y2="489.50" stroke="#858585" stroke-width="1.0" />
<line x1="778.74" y1="90.50" x2="778.74" y2="489.50" stroke="#858585" stroke-width="1.0" />
<line x1="809.62" y1="90.50" x2="809.62" y2="489.50" stroke="#858585" stroke-width="1.0" />
<line x1="840.50" y1="90.50" x2="840.50" y2="489.50" stroke="#858585" stroke-width="1.0" />
<line x1="871.38" y1="90.50" x2="871.38" y2="489.50" stroke="#858585" stroke-width="1.0" />
<line x1="902.26" y1="90.50" x2="902.26" y2="489.50" stroke="#858585" stroke-width="1.0" />
<line x1="933.14" y1="90.50" x2="933.14" y2="489.50" stroke="#858585" stroke-width="1.0" />
<line x1="964.02" y1="90.50" x2="964.02" y2="489.50" stroke="#858585" stroke-width="1.0" />
<line x1="994.90" y1="90.50" x2="994.90" y2="489.50" stroke="#858585" stroke-width="1.0" />
<line x1="53.04" y1="90.50" x2="53.04" y2="489.50" stroke="#c4c4c4" stroke-width="0.9" />
<line x1="83.92" y1="90.50" x2="83.92" y2="489.50" stroke="#c4c4c4" stroke-width="0.9" />
<line x1="114.80" y1="90.50" x2="114.80" y2="489.50" stroke="#c4c4c4" stroke-width="0.9" />
<line x1="145.68" y1="90.50" x2="145.68" y2="489.50" stroke="#c4c4c4" stroke-width="0.9" />
<line x1="176.56" y1="90.50" x2="176.56" y2="489.50" stroke="#c4c4c4" stroke-width="0.9" />
<line x1="207.44" y1="90.50" x2="207.44" y2="489.50" stroke="#c4c4c4" stroke-width="0.9" />
<line x1="238.32" y1="90.50" x2="238.32" y2="489.50" stroke="#c4c4c4" stroke-width="0.9" />
<line x1="269.20" y1="90.50" x2="269.20" y2="489.50" stroke="#c4c4c4" stroke-width="0.9" />
<line x1="300.09" y1="90.50" x2="300.09" y2="489.50" stroke="#c4c4c4" stroke-width="0.9" />
<line x1="330.97" y1="90.50" x2="330.97" y2="489.50" stroke="#c4c4c4" stroke-width="0.9" />
<line x1="361.85" y1="90.50" x2="361.85" y2="489.50" stroke="#c4c4c4" stroke-width="0.9" />
<line x1="392.73" y1="90.50" x2="392.73" y2="489.50" stroke="#c4c4c4" stroke-width="0.9" />
<line x1="423.61" y1="90.50" x2="423.61" y2="489.50" stroke="#c4c4c4" stroke-width="0.9" />
<line x1="454.49" y1="90.50" x2="454.49" y2="489.50" stroke="#c4c4c4" stroke-width="0.9" />
<line x1="485.37" y1="90.50" x2="485.37" y2="489.50" stroke="#c4c4c4" stroke-width="0.9" />
<line x1="516.25" y1="90.50" x2="516.25" y2="489.50" stroke="#c4c4c4" stroke-width="0.9" />
<line x1="547.13" y1="90.50" x2="547.13" y2="489.50" stroke="#c4c4c4" stroke-width="0.9" />
<line x1="578.01" y1="90.50" x2="578.01" y2="489.50" stroke="#c4c4c4" stroke-width="0.9" />
<line x1="608.89" y1="90.50" x2="608.89" y2="489.50" stroke="#c4c4c4" stroke-width="0.9" />
<line x1="639.77" y1="90.50" x2="639.77" y2="489.50" stroke="#c4c4c4" stroke-width="0.9" />
<line x1="670.65" y1="90.50" x2="670.65" y2="489.50" stroke="#c4c4c4" stroke-width="0.9" />
<line x1="701.53" y1="90.50" x2="701.53" y2="489.50" stroke="#c4c4c4" stroke-width="0.9" />
<line x1="732.41" y1="90.50" x2="732.41" y2="489.50" stroke="#c4c4c4" stroke-width="0.9" />
<line x1="763.30" y1="90.50" x2="763.30" y2="489.50" stroke="#c4c4c4" stroke-width="0.9" />
<line x1="794.18" y1="90.50" x2="794.18" y2="489.50" stroke="#c4c4c4" stroke-width="0.9" />
<line x1="825.06" y1="90.50" x2="825.06" y2="489.50" stroke="#c4c4c4" stroke-width="0.9" />
<line x1="855.94" y1="90.50" x2="855.94" y2="489.50" stroke="#c4c4c4" stroke-width="0.9" />
<line x1="886.82" y1="90.50" x2="886.82" y2="489.50" stroke="#c4c4c4" stroke-width="0.9" />
<line x1="917.70" y1="90.50" x2="917.70" y2="489.50" stroke="#c4c4c4" stroke-width="0.9" />
<line x1="948.58" y1="90.50" x2="948.58" y2="489.50" stroke="#c4c4c4" stroke-width="0.9" />
<line x1="979.46" y1="90.50" x2="979.46" y2="489.50" stroke="#c4c4c4" stroke-width="0.9" />
<text transform="translate(26.30,492.90) scale(0.95,1)" font-family="Liberation Sans" font-size="11.4" text-anchor="end" font-weight="normal" fill="#000"  stroke="#000" stroke-width="0.1">-25,0</text>
<text transform="translate(26.30,453.00) scale(0.95,1)" font-family="Liberation Sans" font-size="11.4" text-anchor="end" font-weight="normal" fill="#000"  stroke="#000" stroke-width="0.1">-20,0</text>
<text transform="translate(26.30,413.10) scale(0.95,1)" font-family="Liberation Sans" font-size="11.4" text-anchor="end" font-weight="normal" fill="#000"  stroke="#000" stroke-width="0.1">-15,0</text>
<text transform="translate(26.30,373.20) scale(0.95,1)" font-family="Liberation Sans" font-size="11.4" text-anchor="end" font-weight="normal" fill="#000"  stroke="#000" stroke-width="0.1">-10,0</text>
<text transform="translate(26.30,333.30) scale(0.95,1)" font-family="Liberation Sans" font-size="11.4" text-anchor="end" font-weight="normal" fill="#000"  stroke="#000" stroke-width="0.1">-5,0</text>
<text transform="translate(26.30,293.40) scale(0.95,1)" font-family="Liberation Sans" font-size="11.4" text-anchor="end" font-weight="normal" fill="#000"  stroke="#000" stroke-width="0.1">0,0</text>
<text transform="translate(26.30,253.50) scale(0.95,1)" font-family="Liberation Sans" font-size="11.4" text-anchor="end" font-weight="normal" fill="#000"  stroke="#000" stroke-width="0.1">5,0</text>
<text transform="translate(26.30,213.60) scale(0.95,1)" font-family="Liberation Sans" font-size="11.4" text-anchor="end" font-weight="normal" fill="#000"  stroke="#000" stroke-width="0.1">10,0</text>
<text transform="translate(26.30,173.70) scale(0.95,1)" font-family="Liberation Sans" font-size="11.4" text-anchor="end" font-weight="normal" fill="#000"  stroke="#000" stroke-width="0.1">15,0</text>
<text transform="translate(26.30,133.80) scale(0.95,1)" font-family="Liberation Sans" font-size="11.4" text-anchor="end" font-weight="normal" fill="#000"  stroke="#000" stroke-width="0.1">20,0</text>
<text transform="translate(26.30,93.90) scale(0.95,1)" font-family="Liberation Sans" font-size="11.4" text-anchor="end" font-weight="normal" fill="#000"  stroke="#000" stroke-width="0.1">25,0</text>
<rect x="788.80" y="390.70" width="195.20" height="90.20" fill="#fff" stroke="#c6c6c6" stroke-width="1"/>
<text transform="translate(803.50,409.90) scale(1,1)" font-family="Liberation Sans" font-size="10.4" text-anchor="start" font-weight="normal" fill="#1a1a1a"  stroke="#1a1a1a" stroke-width="0.15" textLength="46.40" lengthAdjust="spacingAndGlyphs">O = Sonne</text>
<text transform="translate(804.70,424.80) scale(1,1)" font-family="Liberation Sans" font-size="10.4" text-anchor="start" font-weight="normal" fill="#1a1a1a"  stroke="#1a1a1a" stroke-width="0.15" textLength="53.50" lengthAdjust="spacingAndGlyphs">B = Bewölkt</text>
<text transform="translate(804.70,439.60) scale(1,1)" font-family="Liberation Sans" font-size="10.4" text-anchor="start" font-weight="normal" fill="#1a1a1a"  stroke="#1a1a1a" stroke-width="0.15" textLength="57.00" lengthAdjust="spacingAndGlyphs">G = Gewitter</text>
<text transform="translate(804.40,454.50) scale(1,1)" font-family="Liberation Sans" font-size="10.4" text-anchor="start" font-weight="normal" fill="#1a1a1a"  stroke="#1a1a1a" stroke-width="0.15" textLength="49.00" lengthAdjust="spacingAndGlyphs">S = Schnee</text>
<text transform="translate(805.00,471.20) scale(1,1)" font-family="Liberation Sans" font-size="10.4" text-anchor="start" font-weight="normal" fill="#1a1a1a"  stroke="#1a1a1a" stroke-width="0.15" textLength="44.50" lengthAdjust="spacingAndGlyphs">N = Nebel</text>
<text transform="translate(899.70,409.90) scale(1,1)" font-family="Liberation Sans" font-size="10.4" text-anchor="start" font-weight="normal" fill="#1a1a1a"  stroke="#1a1a1a" stroke-width="0.15" textLength="45.50" lengthAdjust="spacingAndGlyphs">H = Heiter</text>
<text transform="translate(900.90,424.80) scale(1,1)" font-family="Liberation Sans" font-size="10.4" text-anchor="start" font-weight="normal" fill="#1a1a1a"  stroke="#1a1a1a" stroke-width="0.15" textLength="74.30" lengthAdjust="spacingAndGlyphs">R = Niederschlag</text>
<text transform="translate(895.70,439.60) scale(1,1)" font-family="Liberation Sans" font-size="10.4" text-anchor="start" font-weight="normal" fill="#1a1a1a"  stroke="#1a1a1a" stroke-width="0.15" textLength="78.60" lengthAdjust="spacingAndGlyphs">GG= sta. Gewitter</text>
<text transform="translate(896.20,454.50) scale(1,1)" font-family="Liberation Sans" font-size="10.4" text-anchor="start" font-weight="normal" fill="#1a1a1a"  stroke="#1a1a1a" stroke-width="0.15" textLength="78.80" lengthAdjust="spacingAndGlyphs">SD = Schneedecke</text>
<text transform="translate(897.40,471.20) scale(1,1)" font-family="Liberation Sans" font-size="10.4" text-anchor="start" font-weight="normal" fill="#1a1a1a"  stroke="#1a1a1a" stroke-width="0.15" textLength="47.00" lengthAdjust="spacingAndGlyphs">Hg= Hagel</text>
<polyline points="53.24,301.67 84.12,252.99 115.00,223.47 145.88,261.77 176.76,271.35 207.64,274.54 238.52,312.04 269.40,351.94 300.29,365.51 331.17,372.69 362.05,363.12 392.93,383.07 423.81,379.08 454.69,367.90 485.57,344.76 516.45,268.95 547.33,254.59 578.21,256.98 609.09,246.61 639.97,231.45 670.85,237.03 701.73,264.16 732.61,226.66 763.50,215.49 794.38,212.29 825.26,238.63 856.14,285.71 887.02,264.96" fill="none" stroke="#77933c" stroke-width="2.7" stroke-dasharray="8,3" stroke-linejoin="round"/>
<polyline points="53.24,318.43 84.12,284.11 115.00,233.04 145.88,299.28 176.76,297.68 207.64,285.71 238.52,339.97 269.40,367.11 300.29,376.68 331.17,383.07 362.05,414.19 392.93,441.32 423.81,445.31 454.69,447.70 485.57,388.65 516.45,302.47 547.33,276.93 578.21,296.88 609.09,282.52 639.97,288.10 670.85,295.29 701.73,300.87 732.61,304.86 763.50,286.51 794.38,284.91 825.26,295.29 856.14,313.64 887.02,316.83" fill="none" stroke="#0b70c4" stroke-width="3.0" stroke-linejoin="round" stroke-linecap="round"/>
<polyline points="53.24,284.11 84.12,221.87 115.00,214.69 145.88,225.06 176.76,245.81 207.64,263.37 238.52,283.32 269.40,335.98 300.29,353.54 331.17,361.52 362.05,311.25 392.93,324.01 423.81,312.84 454.69,288.10 485.57,300.07 516.45,235.44 547.33,232.24 578.21,217.08 609.09,211.50 639.97,175.59 670.85,179.58 701.73,227.46 732.61,149.25 763.50,145.26 794.38,140.47 825.26,181.97 856.14,257.78 887.02,213.09" fill="none" stroke="#f4100a" stroke-width="2.9" stroke-linejoin="round" stroke-linecap="round"/>
<line x1="371.50" y1="98.20" x2="400.50" y2="98.20" stroke="#f4100a" stroke-width="3.1" stroke-linecap="round"/>
<text transform="translate(405.80,102.60) scale(1,1)" font-family="Liberation Sans" font-size="10.6" text-anchor="start" font-weight="normal" fill="#1a1a1a"  stroke="#1a1a1a" stroke-width="0.15" textLength="19.60" lengthAdjust="spacingAndGlyphs">Max</text>
<line x1="492.00" y1="98.20" x2="520.50" y2="98.20" stroke="#0b70c4" stroke-width="3.2" stroke-linecap="round"/>
<text transform="translate(525.00,102.60) scale(1,1)" font-family="Liberation Sans" font-size="10.6" text-anchor="start" font-weight="normal" fill="#1a1a1a"  stroke="#1a1a1a" stroke-width="0.15" textLength="17.90" lengthAdjust="spacingAndGlyphs">Min</text>
<line x1="609.00" y1="98.20" x2="638.50" y2="98.20" stroke="#77933c" stroke-width="2.7" stroke-dasharray="8,3"/>
<text transform="translate(643.30,102.60) scale(1,1)" font-family="Liberation Sans" font-size="10.6" text-anchor="start" font-weight="normal" fill="#1a1a1a"  stroke="#1a1a1a" stroke-width="0.15" textLength="28.50" lengthAdjust="spacingAndGlyphs">Mittel</text>
<line x1="994.50" y1="99.30" x2="1164.00" y2="99.30" stroke="#000" stroke-width="1" />
<line x1="1017.40" y1="81.40" x2="1017.40" y2="99.30" stroke="#000" stroke-width="1" />
<line x1="1040.40" y1="81.40" x2="1040.40" y2="99.30" stroke="#000" stroke-width="1" />
<text transform="translate(1146.20,94.70) scale(0.92,1)" font-family="Liberation Sans" font-size="12.0" text-anchor="middle" font-weight="normal" fill="#000"  stroke="#000" stroke-width="0.22">Werte</text>
<text transform="translate(1061.45,114.90) scale(0.915,1)" font-family="Liberation Sans" font-size="13.3" text-anchor="middle" font-weight="normal" fill="#000"  stroke="#000" stroke-width="0.22">Schneefalltage</text>
<text transform="translate(1146.20,115.30) scale(0.96,1)" font-family="Liberation Sans" font-size="13.2" text-anchor="middle" font-weight="normal" fill="#000"  stroke="#000" stroke-width="0.22">4</text>
<text transform="translate(1061.45,135.90) scale(0.915,1)" font-family="Liberation Sans" font-size="13.3" text-anchor="middle" font-weight="normal" fill="#000"  stroke="#000" stroke-width="0.22">Schneedeckentage</text>
<text transform="translate(1146.20,136.30) scale(0.96,1)" font-family="Liberation Sans" font-size="13.2" text-anchor="middle" font-weight="normal" fill="#000"  stroke="#000" stroke-width="0.22">13</text>
<text transform="translate(1061.45,156.70) scale(0.89,1)" font-family="Liberation Serif" font-size="14.67" text-anchor="middle" font-weight="normal" fill="#000"  stroke="#000" stroke-width="0.12">Frosttage</text>
<text transform="translate(1146.20,157.30) scale(0.96,1)" font-family="Liberation Sans" font-size="13.2" text-anchor="middle" font-weight="normal" fill="#000"  stroke="#000" stroke-width="0.22">20</text>
<text transform="translate(1061.45,177.90) scale(0.915,1)" font-family="Liberation Sans" font-size="13.3" text-anchor="middle" font-weight="normal" fill="#000"  stroke="#000" stroke-width="0.22">Eistage</text>
<text transform="translate(1146.20,178.30) scale(0.96,1)" font-family="Liberation Sans" font-size="13.2" text-anchor="middle" font-weight="normal" fill="#000"  stroke="#000" stroke-width="0.22">7</text>
<text transform="translate(1061.45,198.70) scale(0.89,1)" font-family="Liberation Serif" font-size="14.67" text-anchor="middle" font-weight="normal" fill="#000"  stroke="#000" stroke-width="0.12">Niederschlagstage</text>
<text transform="translate(1146.20,199.30) scale(0.96,1)" font-family="Liberation Sans" font-size="13.2" text-anchor="middle" font-weight="normal" fill="#000"  stroke="#000" stroke-width="0.22">13</text>
<text transform="translate(1061.45,219.90) scale(0.915,1)" font-family="Liberation Sans" font-size="13.3" text-anchor="middle" font-weight="normal" fill="#000"  stroke="#000" stroke-width="0.22">Stürmische Tage</text>
<text transform="translate(1146.20,220.30) scale(0.96,1)" font-family="Liberation Sans" font-size="13.2" text-anchor="middle" font-weight="normal" fill="#000"  stroke="#000" stroke-width="0.22">0</text>
<text transform="translate(1061.45,240.90) scale(0.915,1)" font-family="Liberation Sans" font-size="13.3" text-anchor="middle" font-weight="normal" fill="#000"  stroke="#000" stroke-width="0.22">Windige Tage</text>
<text transform="translate(1146.20,241.30) scale(0.96,1)" font-family="Liberation Sans" font-size="13.2" text-anchor="middle" font-weight="normal" fill="#000"  stroke="#000" stroke-width="0.22">3</text>
<text transform="translate(1061.45,261.90) scale(0.915,1)" font-family="Liberation Sans" font-size="13.3" text-anchor="middle" font-weight="normal" fill="#000"  stroke="#000" stroke-width="0.22">Sommertage</text>
<text transform="translate(1146.20,262.30) scale(0.96,1)" font-family="Liberation Sans" font-size="13.2" text-anchor="middle" font-weight="normal" fill="#000"  stroke="#000" stroke-width="0.22">0</text>
<text transform="translate(1061.45,282.90) scale(0.915,1)" font-family="Liberation Sans" font-size="13.3" text-anchor="middle" font-weight="normal" fill="#000"  stroke="#000" stroke-width="0.22">Heiße Tage</text>
<text transform="translate(1146.20,283.30) scale(0.96,1)" font-family="Liberation Sans" font-size="13.2" text-anchor="middle" font-weight="normal" fill="#000"  stroke="#000" stroke-width="0.22">0</text>
<rect x="995.30" y="457.40" width="132.30" height="39.60" fill="#ebf1de" />
<rect x="1129.20" y="457.40" width="33.80" height="39.60" fill="#ebf1de" />
<line x1="994.50" y1="120.30" x2="1164.00" y2="120.30" stroke="#000" stroke-width="1" />
<line x1="994.50" y1="141.30" x2="1164.00" y2="141.30" stroke="#000" stroke-width="1" />
<line x1="994.50" y1="162.30" x2="1164.00" y2="162.30" stroke="#000" stroke-width="1" />
<line x1="994.50" y1="183.30" x2="1164.00" y2="183.30" stroke="#000" stroke-width="1" />
<line x1="994.50" y1="204.30" x2="1164.00" y2="204.30" stroke="#000" stroke-width="1" />
<line x1="994.50" y1="225.30" x2="1164.00" y2="225.30" stroke="#000" stroke-width="1" />
<line x1="994.50" y1="246.30" x2="1164.00" y2="246.30" stroke="#000" stroke-width="1" />
<line x1="994.50" y1="267.30" x2="1164.00" y2="267.30" stroke="#000" stroke-width="1" />
<line x1="994.50" y1="288.30" x2="1164.00" y2="288.30" stroke="#000" stroke-width="1" />
<line x1="994.50" y1="328.30" x2="1164.00" y2="328.30" stroke="#000" stroke-width="1" />
<line x1="994.50" y1="368.50" x2="1164.00" y2="368.50" stroke="#000" stroke-width="1" />
<line x1="994.50" y1="389.10" x2="1164.00" y2="389.10" stroke="#000" stroke-width="1" />
<line x1="994.50" y1="409.80" x2="1164.00" y2="409.80" stroke="#000" stroke-width="1" />
<line x1="994.50" y1="431.30" x2="1164.00" y2="431.30" stroke="#000" stroke-width="1" />
<line x1="1128.40" y1="81.40" x2="1128.40" y2="456.80" stroke="#000" stroke-width="1" />
<text transform="translate(1061.45,303.70) scale(0.9,1)" font-family="Liberation Sans" font-size="13.3" text-anchor="middle" font-weight="normal" fill="#000"  stroke="#000" stroke-width="0.22">Mittleres</text>
<text transform="translate(1061.45,323.90) scale(0.9,1)" font-family="Liberation Sans" font-size="13.3" text-anchor="middle" font-weight="normal" fill="#000"  stroke="#000" stroke-width="0.22">Tagesmaximum</text>
<text transform="translate(1146.20,312.90) scale(0.96,1)" font-family="Liberation Sans" font-size="13.2" text-anchor="middle" font-weight="normal" fill="#000"  stroke="#000" stroke-width="0.22">5,5</text>
<text transform="translate(1061.45,343.70) scale(0.9,1)" font-family="Liberation Sans" font-size="13.3" text-anchor="middle" font-weight="normal" fill="#000"  stroke="#000" stroke-width="0.22">Mittleres</text>
<text transform="translate(1061.45,364.10) scale(0.9,1)" font-family="Liberation Sans" font-size="13.3" text-anchor="middle" font-weight="normal" fill="#000"  stroke="#000" stroke-width="0.22">Tagesminimum</text>
<text transform="translate(1146.20,353.00) scale(0.96,1)" font-family="Liberation Sans" font-size="13.2" text-anchor="middle" font-weight="normal" fill="#000"  stroke="#000" stroke-width="0.22">-4,7</text>
<text transform="translate(1061.45,383.50) scale(0.865,1)" font-family="Liberation Sans" font-size="13.6" text-anchor="middle" font-weight="normal" fill="#000"  stroke="#000" stroke-width="0.1">Wärmster Tag im Mittel</text>
<text transform="translate(1146.20,384.50) scale(0.96,1)" font-family="Liberation Sans" font-size="13.2" text-anchor="middle" font-weight="normal" fill="#000"  stroke="#000" stroke-width="0.22">9,7</text>
<text transform="translate(1061.45,404.20) scale(0.87,1)" font-family="Liberation Sans" font-size="13.6" text-anchor="middle" font-weight="normal" fill="#000"  stroke="#000" stroke-width="0.1">Kältester Tag im Mittel</text>
<text transform="translate(1146.20,405.40) scale(0.92,1)" font-family="Liberation Sans" font-size="13.2" text-anchor="middle" font-weight="normal" fill="#000"  stroke="#000" stroke-width="0.22">-11,7</text>
<text transform="translate(1061.45,425.70) scale(0.835,1)" font-family="Liberation Sans" font-size="15.2" text-anchor="middle" font-weight="normal" fill="#000"  stroke="#000" stroke-width="0.1">Max-Niederschlag</text>
<text transform="translate(1146.20,426.30) scale(0.96,1)" font-family="Liberation Sans" font-size="13.2" text-anchor="middle" font-weight="normal" fill="#000"  stroke="#000" stroke-width="0.22">21,6</text>
<text transform="translate(1061.45,449.20) scale(0.88,1)" font-family="Liberation Serif" font-size="14.67" text-anchor="middle" font-weight="normal" fill="#000"  stroke="#000" stroke-width="0.12">Gewittertage</text>
<text transform="translate(1146.20,450.20) scale(0.96,1)" font-family="Liberation Sans" font-size="13.2" text-anchor="middle" font-weight="normal" fill="#000"  stroke="#000" stroke-width="0.22">0</text>
<text transform="translate(1061.45,472.80) scale(0.97,1)" font-family="Liberation Sans" font-size="13.3" text-anchor="middle" font-weight="normal" fill="#000"  stroke="#000" stroke-width="0.22">Mitteltemperatur des</text>
<text transform="translate(1061.45,492.20) scale(0.9,1)" font-family="Liberation Sans" font-size="13.3" text-anchor="middle" font-weight="normal" fill="#000"  stroke="#000" stroke-width="0.22">Monats °C</text>
<text transform="translate(1146.20,482.00) scale(1.0,1)" font-family="Liberation Serif" font-size="14" text-anchor="middle" font-weight="normal" fill="#000"  stroke="#000" stroke-width="0.12">0,4</text>
<rect x="38.80" y="596.00" width="28.86" height="16.80" fill="#d8e4bc" />
<rect x="69.66" y="596.00" width="28.86" height="16.80" fill="#d8e4bc" />
<rect x="100.52" y="596.00" width="28.86" height="16.80" fill="#d8e4bc" />
<rect x="131.38" y="596.00" width="28.86" height="16.80" fill="#d8e4bc" />
<rect x="162.24" y="596.00" width="28.86" height="16.80" fill="#d8e4bc" />
<rect x="193.10" y="596.00" width="28.86" height="16.80" fill="#d8e4bc" />
<rect x="223.96" y="596.00" width="28.86" height="16.80" fill="#d8e4bc" />
<rect x="254.82" y="596.00" width="28.86" height="16.80" fill="#d8e4bc" />
<rect x="285.68" y="596.00" width="28.86" height="16.80" fill="#d8e4bc" />
<rect x="316.54" y="596.00" width="28.86" height="16.80" fill="#d8e4bc" />
<rect x="347.40" y="596.00" width="28.86" height="16.80" fill="#d8e4bc" />
<rect x="378.26" y="596.00" width="28.86" height="16.80" fill="#d8e4bc" />
<rect x="409.12" y="596.00" width="28.86" height="16.80" fill="#d8e4bc" />
<rect x="439.98" y="596.00" width="28.86" height="16.80" fill="#d8e4bc" />
<rect x="470.84" y="596.00" width="28.86" height="16.80" fill="#d8e4bc" />
<rect x="501.70" y="596.00" width="28.86" height="16.80" fill="#d8e4bc" />
<rect x="532.56" y="596.00" width="28.86" height="16.80" fill="#d8e4bc" />
<rect x="563.42" y="596.00" width="28.86" height="16.80" fill="#d8e4bc" />
<rect x="594.28" y="596.00" width="28.86" height="16.80" fill="#d8e4bc" />
<rect x="625.14" y="596.00" width="28.86" height="16.80" fill="#d8e4bc" />
<rect x="656.00" y="596.00" width="28.86" height="16.80" fill="#d8e4bc" />
<rect x="686.86" y="596.00" width="28.86" height="16.80" fill="#d8e4bc" />
<rect x="717.72" y="596.00" width="28.86" height="16.80" fill="#d8e4bc" />
<rect x="748.58" y="596.00" width="28.86" height="16.80" fill="#d8e4bc" />
<rect x="779.44" y="596.00" width="28.86" height="16.80" fill="#d8e4bc" />
<rect x="810.30" y="596.00" width="28.86" height="16.80" fill="#d8e4bc" />
<rect x="841.16" y="596.00" width="28.86" height="16.80" fill="#d8e4bc" />
<rect x="872.02" y="596.00" width="28.86" height="16.80" fill="#d8e4bc" />
<rect x="902.88" y="596.00" width="28.86" height="16.80" fill="#d8e4bc" />
<rect x="933.74" y="596.00" width="28.86" height="16.80" fill="#d8e4bc" />
<rect x="964.60" y="596.00" width="28.86" height="16.80" fill="#d8e4bc" />
<rect x="995.30" y="596.00" width="132.50" height="16.80" fill="#d8e4bc" />
<rect x="1129.20" y="596.00" width="34.00" height="16.80" fill="#d8e4bc" />
<rect x="100.12" y="539.00" width="29.66" height="19.70" fill="#fabf8f" />
<rect x="377.86" y="518.10" width="29.66" height="19.70" fill="#8db4e2" />
<rect x="439.58" y="577.90" width="29.66" height="16.80" fill="#b8cce4" />
<rect x="779.04" y="560.10" width="29.66" height="16.60" fill="#f2dcdb" />
<rect x="1129.20" y="559.90" width="34.00" height="17.00" fill="#f2dcdb" />
<rect x="1129.20" y="577.90" width="34.00" height="16.80" fill="#dce6f1" />
<text transform="translate(19.20,512.40) scale(0.9,1)" font-family="Liberation Sans" font-size="13.3" text-anchor="middle" font-weight="normal" fill="#000"  stroke="#000" stroke-width="0.22">Tag</text>
<text transform="translate(53.23,512.40) scale(0.96,1)" font-family="Liberation Sans" font-size="13.0" text-anchor="middle" font-weight="normal" fill="#000"  stroke="#000" stroke-width="0.22">1.</text>
<text transform="translate(84.09,512.40) scale(0.96,1)" font-family="Liberation Sans" font-size="13.0" text-anchor="middle" font-weight="normal" fill="#000"  stroke="#000" stroke-width="0.22">2.</text>
<text transform="translate(114.95,512.40) scale(0.96,1)" font-family="Liberation Sans" font-size="13.0" text-anchor="middle" font-weight="normal" fill="#000"  stroke="#000" stroke-width="0.22">3.</text>
<text transform="translate(145.81,512.40) scale(0.96,1)" font-family="Liberation Sans" font-size="13.0" text-anchor="middle" font-weight="normal" fill="#000"  stroke="#000" stroke-width="0.22">4.</text>
<text transform="translate(176.67,512.40) scale(0.96,1)" font-family="Liberation Sans" font-size="13.0" text-anchor="middle" font-weight="normal" fill="#000"  stroke="#000" stroke-width="0.22">5.</text>
<text transform="translate(207.53,512.40) scale(0.96,1)" font-family="Liberation Sans" font-size="13.0" text-anchor="middle" font-weight="normal" fill="#000"  stroke="#000" stroke-width="0.22">6.</text>
<text transform="translate(238.39,512.40) scale(0.96,1)" font-family="Liberation Sans" font-size="13.0" text-anchor="middle" font-weight="normal" fill="#000"  stroke="#000" stroke-width="0.22">7.</text>
<text transform="translate(269.25,512.40) scale(0.96,1)" font-family="Liberation Sans" font-size="13.0" text-anchor="middle" font-weight="normal" fill="#000"  stroke="#000" stroke-width="0.22">8.</text>
<text transform="translate(300.11,512.40) scale(0.96,1)" font-family="Liberation Sans" font-size="13.0" text-anchor="middle" font-weight="normal" fill="#000"  stroke="#000" stroke-width="0.22">9.</text>
<text transform="translate(330.97,512.40) scale(0.96,1)" font-family="Liberation Sans" font-size="13.0" text-anchor="middle" font-weight="normal" fill="#000"  stroke="#000" stroke-width="0.22">10.</text>
<text transform="translate(361.83,512.40) scale(0.96,1)" font-family="Liberation Sans" font-size="13.0" text-anchor="middle" font-weight="normal" fill="#000"  stroke="#000" stroke-width="0.22">11.</text>
<text transform="translate(392.69,512.40) scale(0.96,1)" font-family="Liberation Sans" font-size="13.0" text-anchor="middle" font-weight="normal" fill="#000"  stroke="#000" stroke-width="0.22">12.</text>
<text transform="translate(423.55,512.40) scale(0.96,1)" font-family="Liberation Sans" font-size="13.0" text-anchor="middle" font-weight="normal" fill="#000"  stroke="#000" stroke-width="0.22">13.</text>
<text transform="translate(454.41,512.40) scale(0.96,1)" font-family="Liberation Sans" font-size="13.0" text-anchor="middle" font-weight="normal" fill="#000"  stroke="#000" stroke-width="0.22">14.</text>
<text transform="translate(485.27,512.40) scale(0.96,1)" font-family="Liberation Sans" font-size="13.0" text-anchor="middle" font-weight="normal" fill="#000"  stroke="#000" stroke-width="0.22">15.</text>
<text transform="translate(516.13,512.40) scale(0.96,1)" font-family="Liberation Sans" font-size="13.0" text-anchor="middle" font-weight="normal" fill="#000"  stroke="#000" stroke-width="0.22">16.</text>
<text transform="translate(546.99,512.40) scale(0.96,1)" font-family="Liberation Sans" font-size="13.0" text-anchor="middle" font-weight="normal" fill="#000"  stroke="#000" stroke-width="0.22">17.</text>
<text transform="translate(577.85,512.40) scale(0.96,1)" font-family="Liberation Sans" font-size="13.0" text-anchor="middle" font-weight="normal" fill="#000"  stroke="#000" stroke-width="0.22">18.</text>
<text transform="translate(608.71,512.40) scale(0.96,1)" font-family="Liberation Sans" font-size="13.0" text-anchor="middle" font-weight="normal" fill="#000"  stroke="#000" stroke-width="0.22">19.</text>
<text transform="translate(639.57,512.40) scale(0.96,1)" font-family="Liberation Sans" font-size="13.0" text-anchor="middle" font-weight="normal" fill="#000"  stroke="#000" stroke-width="0.22">20.</text>
<text transform="translate(670.43,512.40) scale(0.96,1)" font-family="Liberation Sans" font-size="13.0" text-anchor="middle" font-weight="normal" fill="#000"  stroke="#000" stroke-width="0.22">21.</text>
<text transform="translate(701.29,512.40) scale(0.96,1)" font-family="Liberation Sans" font-size="13.0" text-anchor="middle" font-weight="normal" fill="#000"  stroke="#000" stroke-width="0.22">22.</text>
<text transform="translate(732.15,512.40) scale(0.96,1)" font-family="Liberation Sans" font-size="13.0" text-anchor="middle" font-weight="normal" fill="#000"  stroke="#000" stroke-width="0.22">23.</text>
<text transform="translate(763.01,512.40) scale(0.96,1)" font-family="Liberation Sans" font-size="13.0" text-anchor="middle" font-weight="normal" fill="#000"  stroke="#000" stroke-width="0.22">24.</text>
<text transform="translate(793.87,512.40) scale(0.96,1)" font-family="Liberation Sans" font-size="13.0" text-anchor="middle" font-weight="normal" fill="#000"  stroke="#000" stroke-width="0.22">25.</text>
<text transform="translate(824.73,512.40) scale(0.96,1)" font-family="Liberation Sans" font-size="13.0" text-anchor="middle" font-weight="normal" fill="#000"  stroke="#000" stroke-width="0.22">26.</text>
<text transform="translate(855.59,512.40) scale(0.96,1)" font-family="Liberation Sans" font-size="13.0" text-anchor="middle" font-weight="normal" fill="#000"  stroke="#000" stroke-width="0.22">27.</text>
<text transform="translate(886.45,512.40) scale(0.96,1)" font-family="Liberation Sans" font-size="13.0" text-anchor="middle" font-weight="normal" fill="#000"  stroke="#000" stroke-width="0.22">28.</text>
<text transform="translate(917.31,512.40) scale(0.92,1)" font-family="Liberation Serif" font-size="13.3" text-anchor="middle" font-weight="normal" fill="#000"  stroke="#000" stroke-width="0.12">29.</text>
<text transform="translate(948.17,512.40) scale(0.92,1)" font-family="Liberation Serif" font-size="13.3" text-anchor="middle" font-weight="normal" fill="#000"  stroke="#000" stroke-width="0.12">30.</text>
<text transform="translate(979.03,512.40) scale(0.92,1)" font-family="Liberation Serif" font-size="13.3" text-anchor="middle" font-weight="normal" fill="#000"  stroke="#000" stroke-width="0.12">31.</text>
<text transform="translate(66.06,533.40) scale(0.96,1)" font-family="Liberation Sans" font-size="13.2" text-anchor="end" font-weight="normal" fill="#000"  stroke="#000" stroke-width="0.22">-4,6</text>
<text transform="translate(96.92,533.40) scale(0.96,1)" font-family="Liberation Sans" font-size="13.2" text-anchor="end" font-weight="normal" fill="#000"  stroke="#000" stroke-width="0.22">-0,2</text>
<text transform="translate(158.64,533.40) scale(0.96,1)" font-family="Liberation Sans" font-size="13.2" text-anchor="end" font-weight="normal" fill="#000"  stroke="#000" stroke-width="0.22">-2,3</text>
<text transform="translate(189.50,533.40) scale(0.96,1)" font-family="Liberation Sans" font-size="13.2" text-anchor="end" font-weight="normal" fill="#000"  stroke="#000" stroke-width="0.22">-2,3</text>
<text transform="translate(251.22,533.40) scale(0.96,1)" font-family="Liberation Sans" font-size="13.2" text-anchor="end" font-weight="normal" fill="#000"  stroke="#000" stroke-width="0.22">-7,5</text>
<text transform="translate(282.08,533.40) scale(0.96,1)" font-family="Liberation Sans" font-size="13.2" text-anchor="end" font-weight="normal" fill="#000"  stroke="#000" stroke-width="0.22">-9,8</text>
<text transform="translate(313.54,533.10) scale(0.97,1)" font-family="Liberation Sans" font-size="12.2" text-anchor="end" font-weight="normal" fill="#000"  stroke="#000" stroke-width="0.22">-13,7</text>
<text transform="translate(343.80,533.40) scale(0.96,1)" font-family="Liberation Sans" font-size="13.2" text-anchor="end" font-weight="normal" fill="#000"  stroke="#000" stroke-width="0.22">11,7</text>
<text transform="translate(375.26,533.10) scale(0.97,1)" font-family="Liberation Sans" font-size="12.2" text-anchor="end" font-weight="normal" fill="#000"  stroke="#000" stroke-width="0.22">-15,7</text>
<text transform="translate(406.12,533.10) scale(0.97,1)" font-family="Liberation Sans" font-size="12.2" text-anchor="end" font-weight="normal" fill="#000"  stroke="#000" stroke-width="0.22">-20,4</text>
<text transform="translate(436.98,533.10) scale(0.97,1)" font-family="Liberation Sans" font-size="12.2" text-anchor="end" font-weight="normal" fill="#000"  stroke="#000" stroke-width="0.22">-19,7</text>
<text transform="translate(467.84,533.10) scale(0.97,1)" font-family="Liberation Sans" font-size="12.2" text-anchor="end" font-weight="normal" fill="#000"  stroke="#000" stroke-width="0.22">-20,2</text>
<text transform="translate(498.70,533.10) scale(0.97,1)" font-family="Liberation Sans" font-size="12.2" text-anchor="end" font-weight="normal" fill="#000"  stroke="#000" stroke-width="0.22">-15,1</text>
<text transform="translate(528.96,533.40) scale(0.96,1)" font-family="Liberation Sans" font-size="13.2" text-anchor="end" font-weight="normal" fill="#000"  stroke="#000" stroke-width="0.22">-1,9</text>
<text transform="translate(590.68,533.40) scale(0.96,1)" font-family="Liberation Sans" font-size="13.2" text-anchor="end" font-weight="normal" fill="#000"  stroke="#000" stroke-width="0.22">-2,4</text>
<text transform="translate(621.54,533.40) scale(0.96,1)" font-family="Liberation Sans" font-size="13.2" text-anchor="end" font-weight="normal" fill="#000"  stroke="#000" stroke-width="0.22">-0,9</text>
<text transform="translate(652.40,533.40) scale(0.96,1)" font-family="Liberation Sans" font-size="13.2" text-anchor="end" font-weight="normal" fill="#000"  stroke="#000" stroke-width="0.22">-1,6</text>
<text transform="translate(683.26,533.40) scale(0.96,1)" font-family="Liberation Sans" font-size="13.2" text-anchor="end" font-weight="normal" fill="#000"  stroke="#000" stroke-width="0.22">-2,9</text>
<text transform="translate(714.12,533.40) scale(0.96,1)" font-family="Liberation Sans" font-size="13.2" text-anchor="end" font-weight="normal" fill="#000"  stroke="#000" stroke-width="0.22">-3,0</text>
<text transform="translate(744.98,533.40) scale(0.96,1)" font-family="Liberation Sans" font-size="13.2" text-anchor="end" font-weight="normal" fill="#000"  stroke="#000" stroke-width="0.22">-3,2</text>
<text transform="translate(775.84,533.40) scale(0.96,1)" font-family="Liberation Sans" font-size="13.2" text-anchor="end" font-weight="normal" fill="#000"  stroke="#000" stroke-width="0.22">-1,7</text>
<text transform="translate(806.70,533.40) scale(0.96,1)" font-family="Liberation Sans" font-size="13.2" text-anchor="end" font-weight="normal" fill="#000"  stroke="#000" stroke-width="0.22">-1,9</text>
<text transform="translate(837.56,533.40) scale(0.96,1)" font-family="Liberation Sans" font-size="13.2" text-anchor="end" font-weight="normal" fill="#000"  stroke="#000" stroke-width="0.22">-2,6</text>
<text transform="translate(868.42,533.40) scale(0.96,1)" font-family="Liberation Sans" font-size="13.2" text-anchor="end" font-weight="normal" fill="#000"  stroke="#000" stroke-width="0.22">-5,1</text>
<text transform="translate(899.28,533.40) scale(0.96,1)" font-family="Liberation Sans" font-size="13.2" text-anchor="end" font-weight="normal" fill="#000"  stroke="#000" stroke-width="0.22">-5,2</text>
<text transform="translate(66.06,554.70) scale(0.96,1)" font-family="Liberation Sans" font-size="13.2" text-anchor="end" font-weight="normal" fill="#000"  stroke="#000" stroke-width="0.22">1,8</text>
<text transform="translate(96.92,554.70) scale(0.96,1)" font-family="Liberation Sans" font-size="13.2" text-anchor="end" font-weight="normal" fill="#000"  stroke="#000" stroke-width="0.22">6,3</text>
<text transform="translate(127.78,554.70) scale(0.96,1)" font-family="Liberation Sans" font-size="13.2" text-anchor="end" font-weight="normal" fill="#000"  stroke="#000" stroke-width="0.22">21,6</text>
<text transform="translate(158.64,554.70) scale(0.96,1)" font-family="Liberation Sans" font-size="13.2" text-anchor="end" font-weight="normal" fill="#000"  stroke="#000" stroke-width="0.22">4,0</text>
<text transform="translate(189.50,554.70) scale(0.96,1)" font-family="Liberation Sans" font-size="13.2" text-anchor="end" font-weight="normal" fill="#000"  stroke="#000" stroke-width="0.22">1,2</text>
<text transform="translate(220.36,554.70) scale(0.96,1)" font-family="Liberation Sans" font-size="13.2" text-anchor="end" font-weight="normal" fill="#000"  stroke="#000" stroke-width="0.22">6,5</text>
<text transform="translate(251.22,554.70) scale(0.96,1)" font-family="Liberation Sans" font-size="13.2" text-anchor="end" font-weight="normal" fill="#000"  stroke="#000" stroke-width="0.22">12,6</text>
<text transform="translate(282.08,554.70) scale(0.96,1)" font-family="Liberation Sans" font-size="13.2" text-anchor="end" font-weight="normal" fill="#000"  stroke="#000" stroke-width="0.22">2,0</text>
<text transform="translate(312.94,554.70) scale(0.96,1)" font-family="Liberation Sans" font-size="13.2" text-anchor="end" font-weight="normal" fill="#000"  stroke="#000" stroke-width="0.22">0,4</text>
<text transform="translate(498.10,554.70) scale(0.96,1)" font-family="Liberation Sans" font-size="13.2" text-anchor="end" font-weight="normal" fill="#000"  stroke="#000" stroke-width="0.22">2,2</text>
<text transform="translate(528.96,554.70) scale(0.96,1)" font-family="Liberation Sans" font-size="13.2" text-anchor="end" font-weight="normal" fill="#000"  stroke="#000" stroke-width="0.22">0,5</text>
<text transform="translate(559.82,554.70) scale(0.96,1)" font-family="Liberation Sans" font-size="13.2" text-anchor="end" font-weight="normal" fill="#000"  stroke="#000" stroke-width="0.22">2,7</text>
<text transform="translate(621.54,554.70) scale(0.96,1)" font-family="Liberation Sans" font-size="13.2" text-anchor="end" font-weight="normal" fill="#000"  stroke="#000" stroke-width="0.22">0,2</text>
<text transform="translate(66.06,573.40) scale(0.96,1)" font-family="Liberation Sans" font-size="13.2" text-anchor="end" font-weight="normal" fill="#000"  stroke="#000" stroke-width="0.22">0,7</text>
<text transform="translate(96.92,573.40) scale(0.96,1)" font-family="Liberation Sans" font-size="13.2" text-anchor="end" font-weight="normal" fill="#000"  stroke="#000" stroke-width="0.22">8,5</text>
<text transform="translate(127.78,573.40) scale(0.96,1)" font-family="Liberation Sans" font-size="13.2" text-anchor="end" font-weight="normal" fill="#000"  stroke="#000" stroke-width="0.22">9,4</text>
<text transform="translate(158.64,573.40) scale(0.96,1)" font-family="Liberation Sans" font-size="13.2" text-anchor="end" font-weight="normal" fill="#000"  stroke="#000" stroke-width="0.22">8,1</text>
<text transform="translate(189.50,573.40) scale(0.96,1)" font-family="Liberation Sans" font-size="13.2" text-anchor="end" font-weight="normal" fill="#000"  stroke="#000" stroke-width="0.22">5,5</text>
<text transform="translate(220.36,573.40) scale(0.96,1)" font-family="Liberation Sans" font-size="13.2" text-anchor="end" font-weight="normal" fill="#000"  stroke="#000" stroke-width="0.22">3,3</text>
<text transform="translate(251.22,573.40) scale(0.96,1)" font-family="Liberation Sans" font-size="13.2" text-anchor="end" font-weight="normal" fill="#000"  stroke="#000" stroke-width="0.22">0,8</text>
<text transform="translate(282.08,573.40) scale(0.96,1)" font-family="Liberation Sans" font-size="13.2" text-anchor="end" font-weight="normal" fill="#000"  stroke="#000" stroke-width="0.22">-5,8</text>
<text transform="translate(312.94,573.40) scale(0.96,1)" font-family="Liberation Sans" font-size="13.2" text-anchor="end" font-weight="normal" fill="#000"  stroke="#000" stroke-width="0.22">-8,0</text>
<text transform="translate(343.80,573.40) scale(0.96,1)" font-family="Liberation Sans" font-size="13.2" text-anchor="end" font-weight="normal" fill="#000"  stroke="#000" stroke-width="0.22">-9,0</text>
<text transform="translate(374.66,573.40) scale(0.96,1)" font-family="Liberation Sans" font-size="13.2" text-anchor="end" font-weight="normal" fill="#000"  stroke="#000" stroke-width="0.22">-2,7</text>
<text transform="translate(405.52,573.40) scale(0.96,1)" font-family="Liberation Sans" font-size="13.2" text-anchor="end" font-weight="normal" fill="#000"  stroke="#000" stroke-width="0.22">-4,3</text>
<text transform="translate(436.38,573.40) scale(0.96,1)" font-family="Liberation Sans" font-size="13.2" text-anchor="end" font-weight="normal" fill="#000"  stroke="#000" stroke-width="0.22">-2,9</text>
<text transform="translate(467.24,573.40) scale(0.96,1)" font-family="Liberation Sans" font-size="13.2" text-anchor="end" font-weight="normal" fill="#000"  stroke="#000" stroke-width="0.22">0,2</text>
<text transform="translate(498.10,573.40) scale(0.96,1)" font-family="Liberation Sans" font-size="13.2" text-anchor="end" font-weight="normal" fill="#000"  stroke="#000" stroke-width="0.22">-1,3</text>
<text transform="translate(528.96,573.40) scale(0.96,1)" font-family="Liberation Sans" font-size="13.2" text-anchor="end" font-weight="normal" fill="#000"  stroke="#000" stroke-width="0.22">6,8</text>
<text transform="translate(559.82,573.40) scale(0.96,1)" font-family="Liberation Sans" font-size="13.2" text-anchor="end" font-weight="normal" fill="#000"  stroke="#000" stroke-width="0.22">7,2</text>
<text transform="translate(590.68,573.40) scale(0.96,1)" font-family="Liberation Sans" font-size="13.2" text-anchor="end" font-weight="normal" fill="#000"  stroke="#000" stroke-width="0.22">9,1</text>
<text transform="translate(621.54,573.40) scale(0.96,1)" font-family="Liberation Sans" font-size="13.2" text-anchor="end" font-weight="normal" fill="#000"  stroke="#000" stroke-width="0.22">9,8</text>
<text transform="translate(652.40,573.40) scale(0.96,1)" font-family="Liberation Sans" font-size="13.2" text-anchor="end" font-weight="normal" fill="#000"  stroke="#000" stroke-width="0.22">14,3</text>
<text transform="translate(683.26,573.40) scale(0.96,1)" font-family="Liberation Sans" font-size="13.2" text-anchor="end" font-weight="normal" fill="#000"  stroke="#000" stroke-width="0.22">13,8</text>
<text transform="translate(714.12,573.40) scale(0.96,1)" font-family="Liberation Sans" font-size="13.2" text-anchor="end" font-weight="normal" fill="#000"  stroke="#000" stroke-width="0.22">7,8</text>
<text transform="translate(744.98,573.40) scale(0.96,1)" font-family="Liberation Sans" font-size="13.2" text-anchor="end" font-weight="normal" fill="#000"  stroke="#000" stroke-width="0.22">17,6</text>
<text transform="translate(775.84,573.40) scale(0.96,1)" font-family="Liberation Sans" font-size="13.2" text-anchor="end" font-weight="normal" fill="#000"  stroke="#000" stroke-width="0.22">18,1</text>
<text transform="translate(806.70,573.40) scale(0.96,1)" font-family="Liberation Sans" font-size="13.2" text-anchor="end" font-weight="normal" fill="#000"  stroke="#000" stroke-width="0.22">18,7</text>
<text transform="translate(837.56,573.40) scale(0.96,1)" font-family="Liberation Sans" font-size="13.2" text-anchor="end" font-weight="normal" fill="#000"  stroke="#000" stroke-width="0.22">13,5</text>
<text transform="translate(868.42,573.40) scale(0.96,1)" font-family="Liberation Sans" font-size="13.2" text-anchor="end" font-weight="normal" fill="#000"  stroke="#000" stroke-width="0.22">4,0</text>
<text transform="translate(899.28,573.40) scale(0.96,1)" font-family="Liberation Sans" font-size="13.2" text-anchor="end" font-weight="normal" fill="#000"  stroke="#000" stroke-width="0.22">9,6</text>
<text transform="translate(66.06,591.40) scale(0.96,1)" font-family="Liberation Sans" font-size="13.2" text-anchor="end" font-weight="normal" fill="#000"  stroke="#000" stroke-width="0.22">-3,6</text>
<text transform="translate(96.92,591.40) scale(0.96,1)" font-family="Liberation Sans" font-size="13.2" text-anchor="end" font-weight="normal" fill="#000"  stroke="#000" stroke-width="0.22">0,7</text>
<text transform="translate(127.78,591.40) scale(0.96,1)" font-family="Liberation Sans" font-size="13.2" text-anchor="end" font-weight="normal" fill="#000"  stroke="#000" stroke-width="0.22">7,1</text>
<text transform="translate(158.64,591.40) scale(0.96,1)" font-family="Liberation Sans" font-size="13.2" text-anchor="end" font-weight="normal" fill="#000"  stroke="#000" stroke-width="0.22">-1,2</text>
<text transform="translate(189.50,591.40) scale(0.96,1)" font-family="Liberation Sans" font-size="13.2" text-anchor="end" font-weight="normal" fill="#000"  stroke="#000" stroke-width="0.22">-1,0</text>
<text transform="translate(220.36,591.40) scale(0.96,1)" font-family="Liberation Sans" font-size="13.2" text-anchor="end" font-weight="normal" fill="#000"  stroke="#000" stroke-width="0.22">0,5</text>
<text transform="translate(251.22,591.40) scale(0.96,1)" font-family="Liberation Sans" font-size="13.2" text-anchor="end" font-weight="normal" fill="#000"  stroke="#000" stroke-width="0.22">-6,3</text>
<text transform="translate(282.08,591.40) scale(0.96,1)" font-family="Liberation Sans" font-size="13.2" text-anchor="end" font-weight="normal" fill="#000"  stroke="#000" stroke-width="0.22">-9,7</text>
<text transform="translate(313.54,591.10) scale(0.97,1)" font-family="Liberation Sans" font-size="12.2" text-anchor="end" font-weight="normal" fill="#000"  stroke="#000" stroke-width="0.22">-10,9</text>
<text transform="translate(344.40,591.10) scale(0.97,1)" font-family="Liberation Sans" font-size="12.2" text-anchor="end" font-weight="normal" fill="#000"  stroke="#000" stroke-width="0.22">-11,7</text>
<text transform="translate(375.26,591.10) scale(0.97,1)" font-family="Liberation Sans" font-size="12.2" text-anchor="end" font-weight="normal" fill="#000"  stroke="#000" stroke-width="0.22">-15,6</text>
<text transform="translate(406.12,591.10) scale(0.97,1)" font-family="Liberation Sans" font-size="12.2" text-anchor="end" font-weight="normal" fill="#000"  stroke="#000" stroke-width="0.22">-19,0</text>
<text transform="translate(436.98,591.10) scale(0.97,1)" font-family="Liberation Sans" font-size="12.2" text-anchor="end" font-weight="normal" fill="#000"  stroke="#000" stroke-width="0.22">-19,5</text>
<text transform="translate(467.84,591.10) scale(0.97,1)" font-family="Liberation Sans" font-size="12.2" text-anchor="end" font-weight="normal" fill="#000"  stroke="#000" stroke-width="0.22">-19,8</text>
<text transform="translate(498.70,591.10) scale(0.97,1)" font-family="Liberation Sans" font-size="12.2" text-anchor="end" font-weight="normal" fill="#000"  stroke="#000" stroke-width="0.22">-12,4</text>
<text transform="translate(528.96,591.40) scale(0.96,1)" font-family="Liberation Sans" font-size="13.2" text-anchor="end" font-weight="normal" fill="#000"  stroke="#000" stroke-width="0.22">-1,6</text>
<text transform="translate(559.82,591.40) scale(0.96,1)" font-family="Liberation Sans" font-size="13.2" text-anchor="end" font-weight="normal" fill="#000"  stroke="#000" stroke-width="0.22">1,6</text>
<text transform="translate(590.68,591.40) scale(0.96,1)" font-family="Liberation Sans" font-size="13.2" text-anchor="end" font-weight="normal" fill="#000"  stroke="#000" stroke-width="0.22">-0,9</text>
<text transform="translate(621.54,591.40) scale(0.96,1)" font-family="Liberation Sans" font-size="13.2" text-anchor="end" font-weight="normal" fill="#000"  stroke="#000" stroke-width="0.22">0,9</text>
<text transform="translate(652.40,591.40) scale(0.96,1)" font-family="Liberation Sans" font-size="13.2" text-anchor="end" font-weight="normal" fill="#000"  stroke="#000" stroke-width="0.22">0,2</text>
<text transform="translate(683.26,591.40) scale(0.96,1)" font-family="Liberation Sans" font-size="13.2" text-anchor="end" font-weight="normal" fill="#000"  stroke="#000" stroke-width="0.22">-0,7</text>
<text transform="translate(714.12,591.40) scale(0.96,1)" font-family="Liberation Sans" font-size="13.2" text-anchor="end" font-weight="normal" fill="#000"  stroke="#000" stroke-width="0.22">-1,4</text>
<text transform="translate(744.98,591.40) scale(0.96,1)" font-family="Liberation Sans" font-size="13.2" text-anchor="end" font-weight="normal" fill="#000"  stroke="#000" stroke-width="0.22">-1,9</text>
<text transform="translate(775.84,591.40) scale(0.96,1)" font-family="Liberation Sans" font-size="13.2" text-anchor="end" font-weight="normal" fill="#000"  stroke="#000" stroke-width="0.22">0,4</text>
<text transform="translate(806.70,591.40) scale(0.96,1)" font-family="Liberation Sans" font-size="13.2" text-anchor="end" font-weight="normal" fill="#000"  stroke="#000" stroke-width="0.22">0,6</text>
<text transform="translate(837.56,591.40) scale(0.96,1)" font-family="Liberation Sans" font-size="13.2" text-anchor="end" font-weight="normal" fill="#000"  stroke="#000" stroke-width="0.22">-0,7</text>
<text transform="translate(868.42,591.40) scale(0.96,1)" font-family="Liberation Sans" font-size="13.2" text-anchor="end" font-weight="normal" fill="#000"  stroke="#000" stroke-width="0.22">-3,0</text>
<text transform="translate(899.28,591.40) scale(0.96,1)" font-family="Liberation Sans" font-size="13.2" text-anchor="end" font-weight="normal" fill="#000"  stroke="#000" stroke-width="0.22">-3,4</text>
<text transform="translate(66.06,609.60) scale(0.96,1)" font-family="Liberation Sans" font-size="13.2" text-anchor="end" font-weight="normal" fill="#000"  stroke="#000" stroke-width="0.22">-1,5</text>
<text transform="translate(96.92,609.60) scale(0.96,1)" font-family="Liberation Sans" font-size="13.2" text-anchor="end" font-weight="normal" fill="#000"  stroke="#000" stroke-width="0.22">4,6</text>
<text transform="translate(127.78,609.60) scale(0.96,1)" font-family="Liberation Sans" font-size="13.2" text-anchor="end" font-weight="normal" fill="#000"  stroke="#000" stroke-width="0.22">8,3</text>
<text transform="translate(158.64,609.60) scale(0.96,1)" font-family="Liberation Sans" font-size="13.2" text-anchor="end" font-weight="normal" fill="#000"  stroke="#000" stroke-width="0.22">3,5</text>
<text transform="translate(189.50,609.60) scale(0.96,1)" font-family="Liberation Sans" font-size="13.2" text-anchor="end" font-weight="normal" fill="#000"  stroke="#000" stroke-width="0.22">2,3</text>
<text transform="translate(220.36,609.60) scale(0.96,1)" font-family="Liberation Sans" font-size="13.2" text-anchor="end" font-weight="normal" fill="#000"  stroke="#000" stroke-width="0.22">1,9</text>
<text transform="translate(251.22,609.60) scale(0.96,1)" font-family="Liberation Sans" font-size="13.2" text-anchor="end" font-weight="normal" fill="#000"  stroke="#000" stroke-width="0.22">-2,8</text>
<text transform="translate(282.08,609.60) scale(0.96,1)" font-family="Liberation Sans" font-size="13.2" text-anchor="end" font-weight="normal" fill="#000"  stroke="#000" stroke-width="0.22">-7,8</text>
<text transform="translate(312.94,609.60) scale(0.96,1)" font-family="Liberation Sans" font-size="13.2" text-anchor="end" font-weight="normal" fill="#000"  stroke="#000" stroke-width="0.22">-9,5</text>
<text transform="translate(344.40,609.30) scale(0.97,1)" font-family="Liberation Sans" font-size="12.2" text-anchor="end" font-weight="normal" fill="#000"  stroke="#000" stroke-width="0.22">-10,4</text>
<text transform="translate(374.66,609.60) scale(0.96,1)" font-family="Liberation Sans" font-size="13.2" text-anchor="end" font-weight="normal" fill="#000"  stroke="#000" stroke-width="0.22">-9,2</text>
<text transform="translate(406.12,609.30) scale(0.97,1)" font-family="Liberation Sans" font-size="12.2" text-anchor="end" font-weight="normal" fill="#000"  stroke="#000" stroke-width="0.22">-11,7</text>
<text transform="translate(436.98,609.30) scale(0.97,1)" font-family="Liberation Sans" font-size="12.2" text-anchor="end" font-weight="normal" fill="#000"  stroke="#000" stroke-width="0.22">-11,2</text>
<text transform="translate(467.24,609.60) scale(0.96,1)" font-family="Liberation Sans" font-size="13.2" text-anchor="end" font-weight="normal" fill="#000"  stroke="#000" stroke-width="0.22">-9,8</text>
<text transform="translate(498.10,609.60) scale(0.96,1)" font-family="Liberation Sans" font-size="13.2" text-anchor="end" font-weight="normal" fill="#000"  stroke="#000" stroke-width="0.22">-6,9</text>
<text transform="translate(528.96,609.60) scale(0.96,1)" font-family="Liberation Sans" font-size="13.2" text-anchor="end" font-weight="normal" fill="#000"  stroke="#000" stroke-width="0.22">2,6</text>
<text transform="translate(559.82,609.60) scale(0.96,1)" font-family="Liberation Sans" font-size="13.2" text-anchor="end" font-weight="normal" fill="#000"  stroke="#000" stroke-width="0.22">4,4</text>
<text transform="translate(590.68,609.60) scale(0.96,1)" font-family="Liberation Sans" font-size="13.2" text-anchor="end" font-weight="normal" fill="#000"  stroke="#000" stroke-width="0.22">4,1</text>
<text transform="translate(621.54,609.60) scale(0.96,1)" font-family="Liberation Sans" font-size="13.2" text-anchor="end" font-weight="normal" fill="#000"  stroke="#000" stroke-width="0.22">5,4</text>
<text transform="translate(652.40,609.60) scale(0.96,1)" font-family="Liberation Sans" font-size="13.2" text-anchor="end" font-weight="normal" fill="#000"  stroke="#000" stroke-width="0.22">7,3</text>
<text transform="translate(683.26,609.60) scale(0.96,1)" font-family="Liberation Sans" font-size="13.2" text-anchor="end" font-weight="normal" fill="#000"  stroke="#000" stroke-width="0.22">6,6</text>
<text transform="translate(714.12,609.60) scale(0.96,1)" font-family="Liberation Sans" font-size="13.2" text-anchor="end" font-weight="normal" fill="#000"  stroke="#000" stroke-width="0.22">3,2</text>
<text transform="translate(744.98,609.60) scale(0.96,1)" font-family="Liberation Sans" font-size="13.2" text-anchor="end" font-weight="normal" fill="#000"  stroke="#000" stroke-width="0.22">7,9</text>
<text transform="translate(775.84,609.60) scale(0.96,1)" font-family="Liberation Sans" font-size="13.2" text-anchor="end" font-weight="normal" fill="#000"  stroke="#000" stroke-width="0.22">9,3</text>
<text transform="translate(806.70,609.60) scale(0.96,1)" font-family="Liberation Sans" font-size="13.2" text-anchor="end" font-weight="normal" fill="#000"  stroke="#000" stroke-width="0.22">9,7</text>
<text transform="translate(837.56,609.60) scale(0.96,1)" font-family="Liberation Sans" font-size="13.2" text-anchor="end" font-weight="normal" fill="#000"  stroke="#000" stroke-width="0.22">6,4</text>
<text transform="translate(868.42,609.60) scale(0.96,1)" font-family="Liberation Sans" font-size="13.2" text-anchor="end" font-weight="normal" fill="#000"  stroke="#000" stroke-width="0.22">0,5</text>
<text transform="translate(899.28,609.60) scale(0.96,1)" font-family="Liberation Sans" font-size="13.2" text-anchor="end" font-weight="normal" fill="#000"  stroke="#000" stroke-width="0.22">3,1</text>
<text transform="translate(21.40,533.40) scale(0.8,1)" font-family="Liberation Sans" font-size="13.0" text-anchor="start" font-weight="normal" fill="#000"  stroke="#000" stroke-width="0.22">°C</text>
<text transform="translate(21.40,573.40) scale(0.8,1)" font-family="Liberation Sans" font-size="13.0" text-anchor="start" font-weight="normal" fill="#000"  stroke="#000" stroke-width="0.22">°C</text>
<text transform="translate(21.40,591.40) scale(0.8,1)" font-family="Liberation Sans" font-size="13.0" text-anchor="start" font-weight="normal" fill="#000"  stroke="#000" stroke-width="0.22">°C</text>
<text transform="translate(21.40,609.60) scale(0.8,1)" font-family="Liberation Sans" font-size="13.0" text-anchor="start" font-weight="normal" fill="#000"  stroke="#000" stroke-width="0.22">°C</text>
<text transform="translate(22.00,554.10) scale(0.85,1)" font-family="Liberation Sans" font-size="8.2" text-anchor="start" font-weight="bold" fill="#111" >l/m²</text>
<text transform="translate(53.23,650.20) scale(0.92,1)" font-family="Liberation Sans" font-size="12.6" text-anchor="middle" font-weight="normal" fill="#000"  stroke="#000" stroke-width="0.22">B</text>
<text transform="translate(84.09,650.20) scale(0.92,1)" font-family="Liberation Sans" font-size="12.6" text-anchor="middle" font-weight="normal" fill="#000"  stroke="#000" stroke-width="0.22">B</text>
<text transform="translate(114.95,650.20) scale(0.92,1)" font-family="Liberation Sans" font-size="12.6" text-anchor="middle" font-weight="normal" fill="#000"  stroke="#000" stroke-width="0.22">B</text>
<text transform="translate(145.81,650.20) scale(0.92,1)" font-family="Liberation Sans" font-size="12.6" text-anchor="middle" font-weight="normal" fill="#000"  stroke="#000" stroke-width="0.22">H</text>
<text transform="translate(176.67,650.20) scale(0.92,1)" font-family="Liberation Sans" font-size="12.6" text-anchor="middle" font-weight="normal" fill="#000"  stroke="#000" stroke-width="0.22">B</text>
<text transform="translate(207.53,650.20) scale(0.92,1)" font-family="Liberation Sans" font-size="12.6" text-anchor="middle" font-weight="normal" fill="#000"  stroke="#000" stroke-width="0.22">B</text>
<text transform="translate(238.39,650.20) scale(0.92,1)" font-family="Liberation Sans" font-size="12.6" text-anchor="middle" font-weight="normal" fill="#000"  stroke="#000" stroke-width="0.22">B</text>
<text transform="translate(269.25,650.20) scale(0.92,1)" font-family="Liberation Sans" font-size="12.6" text-anchor="middle" font-weight="normal" fill="#000"  stroke="#000" stroke-width="0.22">B</text>
<text transform="translate(300.11,650.20) scale(0.92,1)" font-family="Liberation Sans" font-size="12.6" text-anchor="middle" font-weight="normal" fill="#000"  stroke="#000" stroke-width="0.22">B</text>
<text transform="translate(330.97,650.20) scale(0.92,1)" font-family="Liberation Sans" font-size="12.6" text-anchor="middle" font-weight="normal" fill="#000"  stroke="#000" stroke-width="0.22">B</text>
<text transform="translate(361.83,650.20) scale(0.92,1)" font-family="Liberation Sans" font-size="12.6" text-anchor="middle" font-weight="normal" fill="#000"  stroke="#000" stroke-width="0.22">H</text>
<text transform="translate(392.69,650.20) scale(0.92,1)" font-family="Liberation Sans" font-size="12.6" text-anchor="middle" font-weight="normal" fill="#000"  stroke="#000" stroke-width="0.22">H</text>
<text transform="translate(423.55,650.20) scale(0.92,1)" font-family="Liberation Sans" font-size="12.6" text-anchor="middle" font-weight="normal" fill="#000"  stroke="#000" stroke-width="0.22">H</text>
<text transform="translate(454.41,650.20) scale(0.92,1)" font-family="Liberation Sans" font-size="12.6" text-anchor="middle" font-weight="normal" fill="#000"  stroke="#000" stroke-width="0.22">H</text>
<text transform="translate(485.27,650.20) scale(0.92,1)" font-family="Liberation Sans" font-size="12.6" text-anchor="middle" font-weight="normal" fill="#000"  stroke="#000" stroke-width="0.22">B</text>
<text transform="translate(516.13,650.20) scale(0.92,1)" font-family="Liberation Sans" font-size="12.6" text-anchor="middle" font-weight="normal" fill="#000"  stroke="#000" stroke-width="0.22">B</text>
<text transform="translate(546.99,650.20) scale(0.92,1)" font-family="Liberation Sans" font-size="12.6" text-anchor="middle" font-weight="normal" fill="#000"  stroke="#000" stroke-width="0.22">B</text>
<text transform="translate(577.85,650.20) scale(0.92,1)" font-family="Liberation Sans" font-size="12.6" text-anchor="middle" font-weight="normal" fill="#000"  stroke="#000" stroke-width="0.22">B</text>
<text transform="translate(608.71,650.20) scale(0.92,1)" font-family="Liberation Sans" font-size="12.6" text-anchor="middle" font-weight="normal" fill="#000"  stroke="#000" stroke-width="0.22">H</text>
<text transform="translate(639.57,650.20) scale(0.92,1)" font-family="Liberation Sans" font-size="12.6" text-anchor="middle" font-weight="normal" fill="#000"  stroke="#000" stroke-width="0.22">H</text>
<text transform="translate(670.43,650.20) scale(0.92,1)" font-family="Liberation Sans" font-size="12.6" text-anchor="middle" font-weight="normal" fill="#000"  stroke="#000" stroke-width="0.22">H</text>
<text transform="translate(701.29,650.20) scale(0.92,1)" font-family="Liberation Sans" font-size="12.6" text-anchor="middle" font-weight="normal" fill="#000"  stroke="#000" stroke-width="0.22">B</text>
<text transform="translate(732.15,650.20) scale(0.92,1)" font-family="Liberation Sans" font-size="12.6" text-anchor="middle" font-weight="normal" fill="#000"  stroke="#000" stroke-width="0.22">H</text>
<text transform="translate(763.01,650.20) scale(0.92,1)" font-family="Liberation Sans" font-size="12.6" text-anchor="middle" font-weight="normal" fill="#000"  stroke="#000" stroke-width="0.22">H</text>
<text transform="translate(793.87,650.20) scale(0.92,1)" font-family="Liberation Sans" font-size="12.6" text-anchor="middle" font-weight="normal" fill="#000"  stroke="#000" stroke-width="0.22">H</text>
<text transform="translate(824.73,650.20) scale(0.92,1)" font-family="Liberation Sans" font-size="12.6" text-anchor="middle" font-weight="normal" fill="#000"  stroke="#000" stroke-width="0.22">B</text>
<text transform="translate(855.59,650.20) scale(0.92,1)" font-family="Liberation Sans" font-size="12.6" text-anchor="middle" font-weight="normal" fill="#000"  stroke="#000" stroke-width="0.22">B</text>
<text transform="translate(886.45,650.20) scale(0.92,1)" font-family="Liberation Sans" font-size="12.6" text-anchor="middle" font-weight="normal" fill="#000"  stroke="#000" stroke-width="0.22">H</text>
<text transform="translate(53.23,671.30) scale(0.92,1)" font-family="Liberation Sans" font-size="12.6" text-anchor="middle" font-weight="normal" fill="#000"  stroke="#000" stroke-width="0.22">R</text>
<text transform="translate(84.09,671.30) scale(0.92,1)" font-family="Liberation Sans" font-size="12.6" text-anchor="middle" font-weight="normal" fill="#000"  stroke="#000" stroke-width="0.22">R</text>
<text transform="translate(114.95,671.30) scale(0.92,1)" font-family="Liberation Sans" font-size="12.6" text-anchor="middle" font-weight="normal" fill="#000"  stroke="#000" stroke-width="0.22">R</text>
<text transform="translate(145.81,671.30) scale(0.92,1)" font-family="Liberation Sans" font-size="12.6" text-anchor="middle" font-weight="normal" fill="#000"  stroke="#000" stroke-width="0.22">R</text>
<text transform="translate(176.67,671.30) scale(0.92,1)" font-family="Liberation Sans" font-size="12.6" text-anchor="middle" font-weight="normal" fill="#000"  stroke="#000" stroke-width="0.22">R</text>
<text transform="translate(207.53,671.30) scale(0.92,1)" font-family="Liberation Sans" font-size="12.6" text-anchor="middle" font-weight="normal" fill="#000"  stroke="#000" stroke-width="0.22">R</text>
<text transform="translate(238.39,671.30) scale(0.92,1)" font-family="Liberation Sans" font-size="12.6" text-anchor="middle" font-weight="normal" fill="#000"  stroke="#000" stroke-width="0.22">S</text>
<text transform="translate(269.25,671.30) scale(0.92,1)" font-family="Liberation Sans" font-size="12.6" text-anchor="middle" font-weight="normal" fill="#000"  stroke="#000" stroke-width="0.22">S</text>
<text transform="translate(300.11,671.30) scale(0.92,1)" font-family="Liberation Sans" font-size="12.6" text-anchor="middle" font-weight="normal" fill="#000"  stroke="#000" stroke-width="0.22">S</text>
<text transform="translate(485.27,671.30) scale(0.92,1)" font-family="Liberation Sans" font-size="12.6" text-anchor="middle" font-weight="normal" fill="#000"  stroke="#000" stroke-width="0.22">S</text>
<text transform="translate(516.13,671.30) scale(0.92,1)" font-family="Liberation Sans" font-size="12.6" text-anchor="middle" font-weight="normal" fill="#000"  stroke="#000" stroke-width="0.22">R</text>
<text transform="translate(546.99,671.30) scale(0.92,1)" font-family="Liberation Sans" font-size="12.6" text-anchor="middle" font-weight="normal" fill="#000"  stroke="#000" stroke-width="0.22">R</text>
<text transform="translate(608.71,671.30) scale(0.92,1)" font-family="Liberation Sans" font-size="12.6" text-anchor="middle" font-weight="normal" fill="#000"  stroke="#000" stroke-width="0.22">R</text>
<text transform="translate(53.23,692.30) scale(0.92,1)" font-family="Liberation Sans" font-size="12.6" text-anchor="middle" font-weight="normal" fill="#000"  stroke="#000" stroke-width="0.22">SD</text>
<text transform="translate(84.09,692.30) scale(0.92,1)" font-family="Liberation Sans" font-size="12.6" text-anchor="middle" font-weight="normal" fill="#000"  stroke="#000" stroke-width="0.22">SD</text>
<text transform="translate(238.39,692.30) scale(0.92,1)" font-family="Liberation Sans" font-size="12.6" text-anchor="middle" font-weight="normal" fill="#000"  stroke="#000" stroke-width="0.22">SD</text>
<text transform="translate(269.25,692.30) scale(0.92,1)" font-family="Liberation Sans" font-size="12.6" text-anchor="middle" font-weight="normal" fill="#000"  stroke="#000" stroke-width="0.22">SD</text>
<text transform="translate(300.11,692.30) scale(0.92,1)" font-family="Liberation Sans" font-size="12.6" text-anchor="middle" font-weight="normal" fill="#000"  stroke="#000" stroke-width="0.22">SD</text>
<text transform="translate(330.97,692.30) scale(0.92,1)" font-family="Liberation Sans" font-size="12.6" text-anchor="middle" font-weight="normal" fill="#000"  stroke="#000" stroke-width="0.22">SD</text>
<text transform="translate(361.83,692.30) scale(0.92,1)" font-family="Liberation Sans" font-size="12.6" text-anchor="middle" font-weight="normal" fill="#000"  stroke="#000" stroke-width="0.22">SD</text>
<text transform="translate(392.69,692.30) scale(0.92,1)" font-family="Liberation Sans" font-size="12.6" text-anchor="middle" font-weight="normal" fill="#000"  stroke="#000" stroke-width="0.22">SD</text>
<text transform="translate(423.55,692.30) scale(0.92,1)" font-family="Liberation Sans" font-size="12.6" text-anchor="middle" font-weight="normal" fill="#000"  stroke="#000" stroke-width="0.22">SD</text>
<text transform="translate(454.41,692.30) scale(0.92,1)" font-family="Liberation Sans" font-size="12.6" text-anchor="middle" font-weight="normal" fill="#000"  stroke="#000" stroke-width="0.22">SD</text>
<text transform="translate(485.27,692.30) scale(0.92,1)" font-family="Liberation Sans" font-size="12.6" text-anchor="middle" font-weight="normal" fill="#000"  stroke="#000" stroke-width="0.22">SD</text>
<text transform="translate(516.13,692.30) scale(0.92,1)" font-family="Liberation Sans" font-size="12.6" text-anchor="middle" font-weight="normal" fill="#000"  stroke="#000" stroke-width="0.22">SD</text>
<text transform="translate(546.99,692.30) scale(0.92,1)" font-family="Liberation Sans" font-size="12.6" text-anchor="middle" font-weight="normal" fill="#000"  stroke="#000" stroke-width="0.22">SD</text>
<text transform="translate(701.29,711.80) scale(0.92,1)" font-family="Liberation Sans" font-size="12.6" text-anchor="middle" font-weight="normal" fill="#000"  stroke="#000" stroke-width="0.22">N</text>
<text transform="translate(53.23,733.50) scale(0.96,1)" font-family="Liberation Sans" font-size="13.2" text-anchor="middle" font-weight="normal" fill="#000"  stroke="#000" stroke-width="0.22">11</text>
<text transform="translate(84.09,733.50) scale(0.96,1)" font-family="Liberation Sans" font-size="13.2" text-anchor="middle" font-weight="normal" fill="#000"  stroke="#000" stroke-width="0.22">3</text>
<text transform="translate(238.39,733.50) scale(0.96,1)" font-family="Liberation Sans" font-size="13.2" text-anchor="middle" font-weight="normal" fill="#000"  stroke="#000" stroke-width="0.22">13</text>
<text transform="translate(269.25,733.50) scale(0.96,1)" font-family="Liberation Sans" font-size="13.2" text-anchor="middle" font-weight="normal" fill="#000"  stroke="#000" stroke-width="0.22">14</text>
<text transform="translate(300.11,733.50) scale(0.96,1)" font-family="Liberation Sans" font-size="13.2" text-anchor="middle" font-weight="normal" fill="#000"  stroke="#000" stroke-width="0.22">13</text>
<text transform="translate(330.97,733.50) scale(0.96,1)" font-family="Liberation Sans" font-size="13.2" text-anchor="middle" font-weight="normal" fill="#000"  stroke="#000" stroke-width="0.22">12</text>
<text transform="translate(361.83,733.50) scale(0.96,1)" font-family="Liberation Sans" font-size="13.2" text-anchor="middle" font-weight="normal" fill="#000"  stroke="#000" stroke-width="0.22">12</text>
<text transform="translate(392.69,733.50) scale(0.96,1)" font-family="Liberation Sans" font-size="13.2" text-anchor="middle" font-weight="normal" fill="#000"  stroke="#000" stroke-width="0.22">12</text>
<text transform="translate(423.55,733.50) scale(0.96,1)" font-family="Liberation Sans" font-size="13.2" text-anchor="middle" font-weight="normal" fill="#000"  stroke="#000" stroke-width="0.22">11</text>
<text transform="translate(454.41,733.50) scale(0.96,1)" font-family="Liberation Sans" font-size="13.2" text-anchor="middle" font-weight="normal" fill="#000"  stroke="#000" stroke-width="0.22">11</text>
<text transform="translate(485.27,733.50) scale(0.96,1)" font-family="Liberation Sans" font-size="13.2" text-anchor="middle" font-weight="normal" fill="#000"  stroke="#000" stroke-width="0.22">13</text>
<text transform="translate(516.13,733.50) scale(0.96,1)" font-family="Liberation Sans" font-size="13.2" text-anchor="middle" font-weight="normal" fill="#000"  stroke="#000" stroke-width="0.22">10</text>
<text transform="translate(546.99,733.50) scale(0.96,1)" font-family="Liberation Sans" font-size="13.2" text-anchor="middle" font-weight="normal" fill="#000"  stroke="#000" stroke-width="0.22">6</text>
<text transform="translate(238.39,753.80) scale(0.96,1)" font-family="Liberation Sans" font-size="13.2" text-anchor="middle" font-weight="normal" fill="#000"  stroke="#000" stroke-width="0.22">13</text>
<text transform="translate(269.25,753.80) scale(0.96,1)" font-family="Liberation Sans" font-size="13.2" text-anchor="middle" font-weight="normal" fill="#000"  stroke="#000" stroke-width="0.22">5</text>
<text transform="translate(300.11,753.80) scale(0.96,1)" font-family="Liberation Sans" font-size="13.2" text-anchor="middle" font-weight="normal" fill="#000"  stroke="#000" stroke-width="0.22">1</text>
<text transform="translate(485.27,753.80) scale(0.96,1)" font-family="Liberation Sans" font-size="13.2" text-anchor="middle" font-weight="normal" fill="#000"  stroke="#000" stroke-width="0.22">2</text>
<text transform="translate(33.4,697) rotate(-90) scale(1.06,1)" font-family="Liberation Sans" font-size="12.6" text-anchor="middle" stroke="#000" stroke-width="0.2">Wetter</text>
<line x1="0.00" y1="497.60" x2="1164.00" y2="497.60" stroke="#000" stroke-width="1" />
<line x1="0.00" y1="517.30" x2="1164.00" y2="517.30" stroke="#000" stroke-width="1" />
<line x1="0.00" y1="538.40" x2="1164.00" y2="538.40" stroke="#000" stroke-width="1" />
<line x1="0.00" y1="559.30" x2="1128.40" y2="559.30" stroke="#e8000d" stroke-width="1.2" />
<line x1="0.00" y1="577.30" x2="1128.40" y2="577.30" stroke="#000" stroke-width="1" />
<line x1="0.00" y1="595.30" x2="1128.40" y2="595.30" stroke="#000" stroke-width="1" />
<line x1="0.00" y1="613.50" x2="1164.00" y2="613.50" stroke="#e8000d" stroke-width="1.2" />
<line x1="0.00" y1="634.30" x2="1164.00" y2="634.30" stroke="#000" stroke-width="1" />
<line x1="0.00" y1="655.20" x2="19.00" y2="655.20" stroke="#000" stroke-width="1" />
<line x1="37.80" y1="655.20" x2="1164.00" y2="655.20" stroke="#000" stroke-width="1" />
<line x1="0.00" y1="676.30" x2="19.00" y2="676.30" stroke="#000" stroke-width="1" />
<line x1="37.80" y1="676.30" x2="1164.00" y2="676.30" stroke="#000" stroke-width="1" />
<line x1="0.00" y1="697.30" x2="19.00" y2="697.30" stroke="#000" stroke-width="1" />
<line x1="37.80" y1="697.30" x2="1164.00" y2="697.30" stroke="#000" stroke-width="1" />
<line x1="0.00" y1="716.80" x2="19.00" y2="716.80" stroke="#000" stroke-width="1" />
<line x1="37.80" y1="716.80" x2="1164.00" y2="716.80" stroke="#000" stroke-width="2.0" />
<line x1="0.00" y1="738.50" x2="19.00" y2="738.50" stroke="#000" stroke-width="1" />
<line x1="37.80" y1="738.50" x2="1164.00" y2="738.50" stroke="#000" stroke-width="1" />
<line x1="0.00" y1="758.80" x2="1164.00" y2="758.80" stroke="#000" stroke-width="2.0" />
<line x1="0.00" y1="783.10" x2="1164.00" y2="783.10" stroke="#000" stroke-width="1.8" />
<line x1="19.10" y1="517.30" x2="19.10" y2="784.00" stroke="#333" stroke-width="1.6" />
<line x1="37.80" y1="497.60" x2="37.80" y2="716.80" stroke="#000" stroke-width="1" />
<line x1="37.80" y1="716.80" x2="37.80" y2="758.80" stroke="#000" stroke-width="2.0" />
<line x1="68.66" y1="497.60" x2="68.66" y2="758.80" stroke="#000" stroke-width="1" />
<line x1="99.52" y1="497.60" x2="99.52" y2="758.80" stroke="#000" stroke-width="1" />
<line x1="130.38" y1="497.60" x2="130.38" y2="758.80" stroke="#000" stroke-width="1" />
<line x1="161.24" y1="497.60" x2="161.24" y2="758.80" stroke="#000" stroke-width="1" />
<line x1="192.10" y1="497.60" x2="192.10" y2="758.80" stroke="#000" stroke-width="1" />
<line x1="222.96" y1="497.60" x2="222.96" y2="758.80" stroke="#000" stroke-width="1" />
<line x1="253.82" y1="497.60" x2="253.82" y2="758.80" stroke="#000" stroke-width="1" />
<line x1="284.68" y1="497.60" x2="284.68" y2="758.80" stroke="#000" stroke-width="1" />
<line x1="315.54" y1="497.60" x2="315.54" y2="758.80" stroke="#000" stroke-width="1" />
<line x1="346.40" y1="497.60" x2="346.40" y2="758.80" stroke="#000" stroke-width="1" />
<line x1="377.26" y1="497.60" x2="377.26" y2="758.80" stroke="#000" stroke-width="1" />
<line x1="408.12" y1="497.60" x2="408.12" y2="758.80" stroke="#000" stroke-width="1" />
<line x1="438.98" y1="497.60" x2="438.98" y2="758.80" stroke="#000" stroke-width="1" />
<line x1="469.84" y1="497.60" x2="469.84" y2="758.80" stroke="#000" stroke-width="1" />
<line x1="500.70" y1="497.60" x2="500.70" y2="758.80" stroke="#000" stroke-width="1" />
<line x1="531.56" y1="497.60" x2="531.56" y2="758.80" stroke="#000" stroke-width="1" />
<line x1="562.42" y1="497.60" x2="562.42" y2="758.80" stroke="#000" stroke-width="1" />
<line x1="593.28" y1="497.60" x2="593.28" y2="758.80" stroke="#000" stroke-width="1" />
<line x1="624.14" y1="497.60" x2="624.14" y2="758.80" stroke="#000" stroke-width="1" />
<line x1="655.00" y1="497.60" x2="655.00" y2="758.80" stroke="#000" stroke-width="1" />
<line x1="685.86" y1="497.60" x2="685.86" y2="758.80" stroke="#000" stroke-width="1" />
<line x1="716.72" y1="497.60" x2="716.72" y2="758.80" stroke="#000" stroke-width="1" />
<line x1="747.58" y1="497.60" x2="747.58" y2="758.80" stroke="#000" stroke-width="1" />
<line x1="778.44" y1="497.60" x2="778.44" y2="758.80" stroke="#000" stroke-width="1" />
<line x1="809.30" y1="497.60" x2="809.30" y2="758.80" stroke="#000" stroke-width="1" />
<line x1="840.16" y1="497.60" x2="840.16" y2="758.80" stroke="#000" stroke-width="1" />
<line x1="871.02" y1="497.60" x2="871.02" y2="758.80" stroke="#000" stroke-width="1" />
<line x1="901.88" y1="497.60" x2="901.88" y2="758.80" stroke="#000" stroke-width="1" />
<line x1="932.74" y1="497.60" x2="932.74" y2="758.80" stroke="#000" stroke-width="1" />
<line x1="963.60" y1="497.60" x2="963.60" y2="758.80" stroke="#000" stroke-width="1" />
<line x1="1128.40" y1="497.60" x2="1128.40" y2="758.80" stroke="#000" stroke-width="1" />
<line x1="1163.70" y1="716.80" x2="1163.70" y2="758.80" stroke="#000" stroke-width="2.0" />
<line x1="655.20" y1="758.80" x2="655.20" y2="783.10" stroke="#000" stroke-width="1" />
<path d="M1022.00,528.60 H1013.00 M1016.00,525.60 L1013.00,528.60 L1016.00,531.60" fill="none" stroke="#000" stroke-width="1.3" stroke-linecap="round" stroke-linejoin="round"/>
<text transform="translate(1068.95,533.20) scale(0.955,1)" font-family="Liberation Sans" font-size="13.0" text-anchor="middle" font-weight="normal" fill="#000"  stroke="#000" stroke-width="0.22">Bodenfrosttage</text>
<text transform="translate(1146.20,533.60) scale(0.96,1)" font-family="Liberation Sans" font-size="13.2" text-anchor="middle" font-weight="normal" fill="#000"  stroke="#000" stroke-width="0.22">24</text>
<text transform="translate(1061.45,554.10) scale(0.94,1)" font-family="Liberation Sans" font-size="13.0" text-anchor="middle" font-weight="normal" fill="#000"  stroke="#000" stroke-width="0.22">Niederschlag - Monat</text>
<text transform="translate(1146.20,554.50) scale(0.96,1)" font-family="Liberation Sans" font-size="13.2" text-anchor="middle" font-weight="normal" fill="#000"  stroke="#000" stroke-width="0.22">62,0</text>
<text transform="translate(1061.45,572.10) scale(0.95,1)" font-family="Liberation Sans" font-size="13.0" text-anchor="middle" font-weight="normal" fill="#000"  stroke="#000" stroke-width="0.22">Höchste-Temperatur</text>
<text transform="translate(1146.20,572.50) scale(0.96,1)" font-family="Liberation Sans" font-size="13.2" text-anchor="middle" font-weight="normal" fill="#000"  stroke="#000" stroke-width="0.22">18,7</text>
<text transform="translate(1061.45,590.10) scale(0.96,1)" font-family="Liberation Sans" font-size="13.0" text-anchor="middle" font-weight="normal" fill="#000"  stroke="#000" stroke-width="0.22">Niedrigste-Temperatur</text>
<text transform="translate(1146.20,590.50) scale(0.95,1)" font-family="Liberation Sans" font-size="13.2" text-anchor="middle" font-weight="normal" fill="#000"  stroke="#000" stroke-width="0.22">-19,8</text>
<text transform="translate(1061.45,608.30) scale(0.87,1)" font-family="Liberation Sans" font-size="13.4" text-anchor="middle" font-weight="normal" fill="#000"  stroke="#000" stroke-width="0.1">Tagesmittel</text>
<text transform="translate(1146.20,608.70) scale(0.96,1)" font-family="Liberation Sans" font-size="13.2" text-anchor="middle" font-weight="normal" fill="#000"  stroke="#000" stroke-width="0.22">0,4</text>
<text transform="translate(1061.45,629.10) scale(0.875,1)" font-family="Liberation Sans" font-size="15.0" text-anchor="middle" font-weight="normal" fill="#000"  stroke="#000" stroke-width="0.1">Kältesumme</text>
<text transform="translate(1146.20,629.50) scale(0.95,1)" font-family="Liberation Sans" font-size="13.2" text-anchor="middle" font-weight="normal" fill="#000"  stroke="#000" stroke-width="0.22">-80,4</text>
<text transform="translate(1061.45,650.00) scale(0.97,1)" font-family="Liberation Sans" font-size="13.0" text-anchor="middle" font-weight="normal" fill="#000"  stroke="#000" stroke-width="0.22">Min-Bodenfrost</text>
<text transform="translate(1146.20,650.40) scale(0.95,1)" font-family="Liberation Sans" font-size="13.2" text-anchor="middle" font-weight="normal" fill="#000"  stroke="#000" stroke-width="0.22">-20,4</text>
<text transform="translate(1061.45,671.10) scale(0.935,1)" font-family="Liberation Sans" font-size="12.2" text-anchor="middle" font-weight="bold" fill="#000" >Mittel 1961-1990 in °C</text>
<text transform="translate(1146.20,671.70) scale(1.0,1)" font-family="Liberation Serif" font-size="14.67" text-anchor="middle" font-weight="bold" fill="#000" >-0,6</text>
<text transform="translate(1061.45,692.10) scale(0.93,1)" font-family="Liberation Serif" font-size="12.0" text-anchor="middle" font-weight="bold" fill="#f00" >Abweichung v. Mittel in °C</text>
<text transform="translate(1146.20,692.90) scale(1.0,1)" font-family="Liberation Serif" font-size="17.3" text-anchor="middle" font-weight="normal" fill="#f00"  stroke="#f00" stroke-width="0.12">1,0</text>
<text transform="translate(1146.20,712.20) scale(0.9,1)" font-family="Liberation Serif" font-size="11.5" text-anchor="middle" font-weight="bold" fill="#000" >Max</text>
<text transform="translate(1061.45,733.30) scale(0.92,1)" font-family="Liberation Serif" font-size="15.2" text-anchor="middle" font-weight="normal" fill="#000"  stroke="#000" stroke-width="0.12">Schneedecke -   SH</text>
<text transform="translate(1146.20,734.10) scale(1.0,1)" font-family="Liberation Serif" font-size="12.6" text-anchor="middle" font-weight="bold" fill="#000" >14</text>
<text transform="translate(1061.45,753.60) scale(0.9,1)" font-family="Liberation Serif" font-size="15.2" text-anchor="middle" font-weight="normal" fill="#000"  stroke="#000" stroke-width="0.12">Neuschneehöhe- NSH</text>
<text transform="translate(1146.20,754.40) scale(1.0,1)" font-family="Liberation Serif" font-size="12.6" text-anchor="middle" font-weight="bold" fill="#000" >13</text>
<text transform="translate(166.10,775.60) scale(1,1)" font-family="Liberation Serif" font-size="14.0" text-anchor="start" font-weight="normal" fill="#000"  stroke="#000" stroke-width="0.12" textLength="84.20" lengthAdjust="spacingAndGlyphs">Datenerfassung:</text>
<text transform="translate(257.50,775.60) scale(1,1)" font-family="Liberation Serif" font-size="14.0" text-anchor="start" font-weight="normal" fill="#000"  stroke="#000" stroke-width="0.12" textLength="51.10" lengthAdjust="spacingAndGlyphs">Standort -</text>
<text transform="translate(315.80,775.60) scale(1,1)" font-family="Liberation Serif" font-size="14.0" text-anchor="start" font-weight="normal" fill="#000"  stroke="#000" stroke-width="0.12" textLength="30.90" lengthAdjust="spacingAndGlyphs">95496</text>
<text transform="translate(354.30,775.60) scale(1,1)" font-family="Liberation Serif" font-size="14.0" text-anchor="start" font-weight="normal" fill="#000"  stroke="#000" stroke-width="0.12" textLength="53.90" lengthAdjust="spacingAndGlyphs">Glashütten,</text>
<text transform="translate(414.40,775.60) scale(1,1)" font-family="Liberation Serif" font-size="14.0" text-anchor="start" font-weight="normal" fill="#000"  stroke="#000" stroke-width="0.12" textLength="97.80" lengthAdjust="spacingAndGlyphs">Altenhimmelstr. 37</text>
<text transform="translate(746.10,775.60) scale(1,1)" font-family="Liberation Serif" font-size="14.0" text-anchor="start" font-weight="normal" fill="#000"  stroke="#000" stroke-width="0.12" textLength="65.30" lengthAdjust="spacingAndGlyphs">Koordinaten:</text>
<text transform="translate(818.60,775.60) scale(1,1)" font-family="Liberation Serif" font-size="14.0" text-anchor="start" font-weight="normal" fill="#000"  stroke="#000" stroke-width="0.12" textLength="86.50" lengthAdjust="spacingAndGlyphs">49° 52&#x27; 48&#x27; Nord,</text>
<text transform="translate(917.10,775.60) scale(1,1)" font-family="Liberation Serif" font-size="14.0" text-anchor="start" font-weight="normal" fill="#000"  stroke="#000" stroke-width="0.12" textLength="79.00" lengthAdjust="spacingAndGlyphs">11° 27&#x27; 04&quot; Ost</text>
<text transform="translate(1006.40,775.60) scale(1,1)" font-family="Liberation Serif" font-size="14.0" text-anchor="start" font-weight="normal" fill="#000"  stroke="#000" stroke-width="0.12" textLength="66.90" lengthAdjust="spacingAndGlyphs">439 m ü. NN</text>
</svg>
</body></html>
